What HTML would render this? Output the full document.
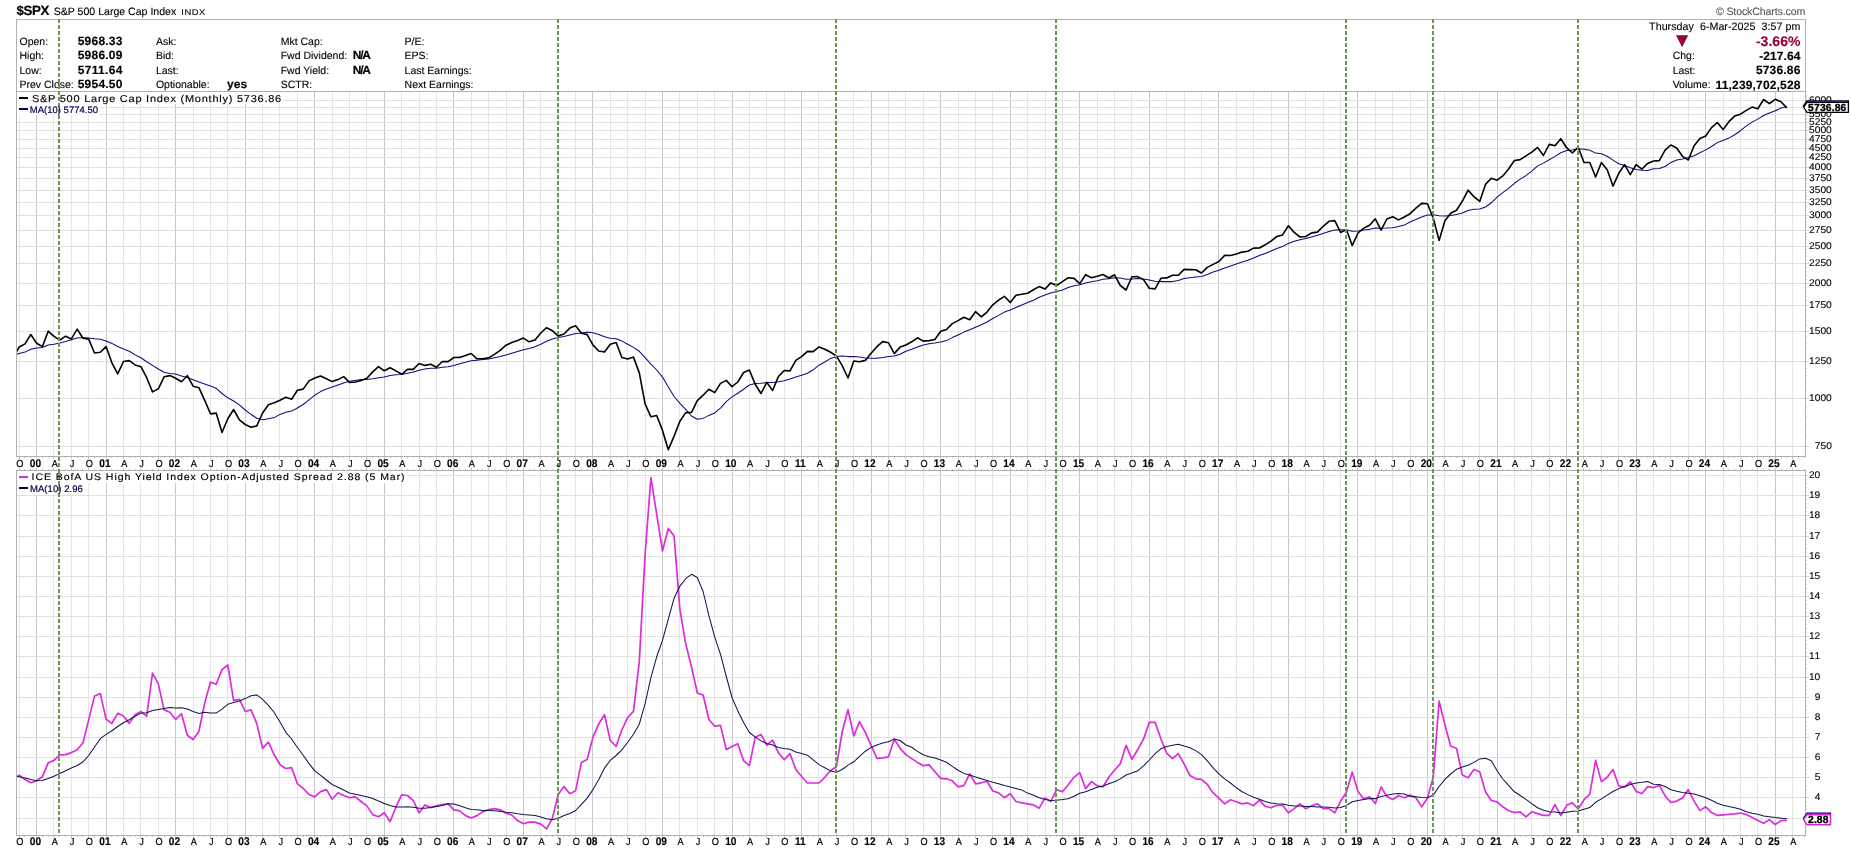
<!DOCTYPE html>
<html><head><meta charset="utf-8"><title>$SPX</title>
<style>html,body{margin:0;padding:0;background:#fff;overflow:hidden}body{width:1851px;height:851px;font-family:"Liberation Sans",sans-serif}svg{display:block;will-change:transform;text-rendering:geometricPrecision}text{white-space:pre}</style>
</head><body>
<svg width="1851" height="851" viewBox="0 0 1851 851" font-family="Liberation Sans, sans-serif">
<defs>
<clipPath id="c1"><rect x="17" y="92" width="1788" height="364"/></clipPath>
<clipPath id="c2"><rect x="17" y="471" width="1788" height="364"/></clipPath>
</defs>
<path d="M19.5 92V456M53.5 92V456M71.5 92V456M88.5 92V456M123.5 92V456M140.5 92V456M158.5 92V456M193.5 92V456M210.5 92V456M227.5 92V456M262.5 92V456M279.5 92V456M297.5 92V456M332.5 92V456M349.5 92V456M366.5 92V456M401.5 92V456M419.5 92V456M436.5 92V456M471.5 92V456M488.5 92V456M506.5 92V456M540.5 92V456M558.5 92V456M575.5 92V456M610.5 92V456M627.5 92V456M645.5 92V456M679.5 92V456M697.5 92V456M714.5 92V456M749.5 92V456M766.5 92V456M784.5 92V456M818.5 92V456M836.5 92V456M853.5 92V456M888.5 92V456M905.5 92V456M923.5 92V456M958.5 92V456M975.5 92V456M992.5 92V456M1027.5 92V456M1045.5 92V456M1062.5 92V456M1097.5 92V456M1114.5 92V456M1131.5 92V456M1166.5 92V456M1184.5 92V456M1201.5 92V456M1236.5 92V456M1253.5 92V456M1271.5 92V456M1305.5 92V456M1323.5 92V456M1340.5 92V456M1375.5 92V456M1392.5 92V456M1410.5 92V456M1444.5 92V456M1462.5 92V456M1479.5 92V456M1514.5 92V456M1531.5 92V456M1549.5 92V456M1583.5 92V456M1601.5 92V456M1618.5 92V456M1653.5 92V456M1670.5 92V456M1688.5 92V456M1723.5 92V456M1740.5 92V456M1757.5 92V456M1792.5 92V456" stroke="#e6e6e6" stroke-width="1" fill="none" shape-rendering="crispEdges"/>
<path d="M36.5 92V456M106.5 92V456M175.5 92V456M245.5 92V456M314.5 92V456M384.5 92V456M453.5 92V456M523.5 92V456M592.5 92V456M662.5 92V456M732.5 92V456M801.5 92V456M871.5 92V456M940.5 92V456M1010.5 92V456M1079.5 92V456M1149.5 92V456M1218.5 92V456M1288.5 92V456M1357.5 92V456M1427.5 92V456M1497.5 92V456M1566.5 92V456M1636.5 92V456M1705.5 92V456M1775.5 92V456" stroke="#c8c8c8" stroke-width="1" fill="none" shape-rendering="crispEdges"/>
<path d="M17 100.5H1805M17 107.5H1805M17 114.5H1805M17 122.5H1805M17 130.5H1805M17 139.5H1805M17 148.5H1805M17 157.5H1805M17 167.5H1805M17 178.5H1805M17 190.5H1805M17 202.5H1805M17 215.5H1805M17 230.5H1805M17 246.5H1805M17 263.5H1805M17 283.5H1805M17 305.5H1805M17 331.5H1805M17 361.5H1805M17 398.5H1805M17 446.5H1805" stroke="#e0e0e0" stroke-width="1" fill="none" shape-rendering="crispEdges"/>
<path d="M19.5 471V835M53.5 471V835M71.5 471V835M88.5 471V835M123.5 471V835M140.5 471V835M158.5 471V835M193.5 471V835M210.5 471V835M227.5 471V835M262.5 471V835M279.5 471V835M297.5 471V835M332.5 471V835M349.5 471V835M366.5 471V835M401.5 471V835M419.5 471V835M436.5 471V835M471.5 471V835M488.5 471V835M506.5 471V835M540.5 471V835M558.5 471V835M575.5 471V835M610.5 471V835M627.5 471V835M645.5 471V835M679.5 471V835M697.5 471V835M714.5 471V835M749.5 471V835M766.5 471V835M784.5 471V835M818.5 471V835M836.5 471V835M853.5 471V835M888.5 471V835M905.5 471V835M923.5 471V835M958.5 471V835M975.5 471V835M992.5 471V835M1027.5 471V835M1045.5 471V835M1062.5 471V835M1097.5 471V835M1114.5 471V835M1131.5 471V835M1166.5 471V835M1184.5 471V835M1201.5 471V835M1236.5 471V835M1253.5 471V835M1271.5 471V835M1305.5 471V835M1323.5 471V835M1340.5 471V835M1375.5 471V835M1392.5 471V835M1410.5 471V835M1444.5 471V835M1462.5 471V835M1479.5 471V835M1514.5 471V835M1531.5 471V835M1549.5 471V835M1583.5 471V835M1601.5 471V835M1618.5 471V835M1653.5 471V835M1670.5 471V835M1688.5 471V835M1723.5 471V835M1740.5 471V835M1757.5 471V835M1792.5 471V835" stroke="#e6e6e6" stroke-width="1" fill="none" shape-rendering="crispEdges"/>
<path d="M36.5 471V835M106.5 471V835M175.5 471V835M245.5 471V835M314.5 471V835M384.5 471V835M453.5 471V835M523.5 471V835M592.5 471V835M662.5 471V835M732.5 471V835M801.5 471V835M871.5 471V835M940.5 471V835M1010.5 471V835M1079.5 471V835M1149.5 471V835M1218.5 471V835M1288.5 471V835M1357.5 471V835M1427.5 471V835M1497.5 471V835M1566.5 471V835M1636.5 471V835M1705.5 471V835M1775.5 471V835" stroke="#c8c8c8" stroke-width="1" fill="none" shape-rendering="crispEdges"/>
<path d="M17 818.5H1805M17 797.5H1805M17 777.5H1805M17 757.5H1805M17 737.5H1805M17 717.5H1805M17 697.5H1805M17 677.5H1805M17 656.5H1805M17 636.5H1805M17 616.5H1805M17 596.5H1805M17 576.5H1805M17 556.5H1805M17 536.5H1805M17 515.5H1805M17 495.5H1805M17 475.5H1805" stroke="#e0e0e0" stroke-width="1" fill="none" shape-rendering="crispEdges"/>
<rect x="17" y="92" width="266" height="12" fill="#fff"/>
<rect x="17" y="104" width="83" height="11" fill="#fff"/>
<rect x="17" y="471" width="390" height="12" fill="#fff"/>
<rect x="17" y="483" width="68" height="12" fill="#fff"/>
<rect x="16.5" y="19.5" width="1789" height="72" fill="none" stroke="#b0b0b0" shape-rendering="crispEdges"/>
<rect x="16.5" y="91.5" width="1789" height="365" fill="none" stroke="#b0b0b0" shape-rendering="crispEdges"/>
<rect x="16.5" y="470.5" width="1789" height="365" fill="none" stroke="#b0b0b0" shape-rendering="crispEdges"/>
<path d="M19.5 457v2M19.5 468v2M19.5 836v2M24.5 457v1M24.5 469v1M24.5 836v1M30.5 457v1M30.5 469v1M30.5 836v1M36.5 457v2M36.5 468v2M36.5 836v2M42.5 457v1M42.5 469v1M42.5 836v1M48.5 457v1M48.5 469v1M48.5 836v1M53.5 457v2M53.5 468v2M53.5 836v2M59.5 457v1M59.5 469v1M59.5 836v1M65.5 457v1M65.5 469v1M65.5 836v1M71.5 457v2M71.5 468v2M71.5 836v2M77.5 457v1M77.5 469v1M77.5 836v1M82.5 457v1M82.5 469v1M82.5 836v1M88.5 457v2M88.5 468v2M88.5 836v2M94.5 457v1M94.5 469v1M94.5 836v1M100.5 457v1M100.5 469v1M100.5 836v1M106.5 457v2M106.5 468v2M106.5 836v2M111.5 457v1M111.5 469v1M111.5 836v1M117.5 457v1M117.5 469v1M117.5 836v1M123.5 457v2M123.5 468v2M123.5 836v2M129.5 457v1M129.5 469v1M129.5 836v1M135.5 457v1M135.5 469v1M135.5 836v1M140.5 457v2M140.5 468v2M140.5 836v2M146.5 457v1M146.5 469v1M146.5 836v1M152.5 457v1M152.5 469v1M152.5 836v1M158.5 457v2M158.5 468v2M158.5 836v2M164.5 457v1M164.5 469v1M164.5 836v1M169.5 457v1M169.5 469v1M169.5 836v1M175.5 457v2M175.5 468v2M175.5 836v2M181.5 457v1M181.5 469v1M181.5 836v1M187.5 457v1M187.5 469v1M187.5 836v1M193.5 457v2M193.5 468v2M193.5 836v2M198.5 457v1M198.5 469v1M198.5 836v1M204.5 457v1M204.5 469v1M204.5 836v1M210.5 457v2M210.5 468v2M210.5 836v2M216.5 457v1M216.5 469v1M216.5 836v1M222.5 457v1M222.5 469v1M222.5 836v1M227.5 457v2M227.5 468v2M227.5 836v2M233.5 457v1M233.5 469v1M233.5 836v1M239.5 457v1M239.5 469v1M239.5 836v1M245.5 457v2M245.5 468v2M245.5 836v2M251.5 457v1M251.5 469v1M251.5 836v1M256.5 457v1M256.5 469v1M256.5 836v1M262.5 457v2M262.5 468v2M262.5 836v2M268.5 457v1M268.5 469v1M268.5 836v1M274.5 457v1M274.5 469v1M274.5 836v1M279.5 457v2M279.5 468v2M279.5 836v2M285.5 457v1M285.5 469v1M285.5 836v1M291.5 457v1M291.5 469v1M291.5 836v1M297.5 457v2M297.5 468v2M297.5 836v2M303.5 457v1M303.5 469v1M303.5 836v1M308.5 457v1M308.5 469v1M308.5 836v1M314.5 457v2M314.5 468v2M314.5 836v2M320.5 457v1M320.5 469v1M320.5 836v1M326.5 457v1M326.5 469v1M326.5 836v1M332.5 457v2M332.5 468v2M332.5 836v2M337.5 457v1M337.5 469v1M337.5 836v1M343.5 457v1M343.5 469v1M343.5 836v1M349.5 457v2M349.5 468v2M349.5 836v2M355.5 457v1M355.5 469v1M355.5 836v1M361.5 457v1M361.5 469v1M361.5 836v1M366.5 457v2M366.5 468v2M366.5 836v2M372.5 457v1M372.5 469v1M372.5 836v1M378.5 457v1M378.5 469v1M378.5 836v1M384.5 457v2M384.5 468v2M384.5 836v2M390.5 457v1M390.5 469v1M390.5 836v1M395.5 457v1M395.5 469v1M395.5 836v1M401.5 457v2M401.5 468v2M401.5 836v2M407.5 457v1M407.5 469v1M407.5 836v1M413.5 457v1M413.5 469v1M413.5 836v1M419.5 457v2M419.5 468v2M419.5 836v2M424.5 457v1M424.5 469v1M424.5 836v1M430.5 457v1M430.5 469v1M430.5 836v1M436.5 457v2M436.5 468v2M436.5 836v2M442.5 457v1M442.5 469v1M442.5 836v1M448.5 457v1M448.5 469v1M448.5 836v1M453.5 457v2M453.5 468v2M453.5 836v2M459.5 457v1M459.5 469v1M459.5 836v1M465.5 457v1M465.5 469v1M465.5 836v1M471.5 457v2M471.5 468v2M471.5 836v2M477.5 457v1M477.5 469v1M477.5 836v1M482.5 457v1M482.5 469v1M482.5 836v1M488.5 457v2M488.5 468v2M488.5 836v2M494.5 457v1M494.5 469v1M494.5 836v1M500.5 457v1M500.5 469v1M500.5 836v1M506.5 457v2M506.5 468v2M506.5 836v2M511.5 457v1M511.5 469v1M511.5 836v1M517.5 457v1M517.5 469v1M517.5 836v1M523.5 457v2M523.5 468v2M523.5 836v2M529.5 457v1M529.5 469v1M529.5 836v1M534.5 457v1M534.5 469v1M534.5 836v1M540.5 457v2M540.5 468v2M540.5 836v2M546.5 457v1M546.5 469v1M546.5 836v1M552.5 457v1M552.5 469v1M552.5 836v1M558.5 457v2M558.5 468v2M558.5 836v2M563.5 457v1M563.5 469v1M563.5 836v1M569.5 457v1M569.5 469v1M569.5 836v1M575.5 457v2M575.5 468v2M575.5 836v2M581.5 457v1M581.5 469v1M581.5 836v1M587.5 457v1M587.5 469v1M587.5 836v1M592.5 457v2M592.5 468v2M592.5 836v2M598.5 457v1M598.5 469v1M598.5 836v1M604.5 457v1M604.5 469v1M604.5 836v1M610.5 457v2M610.5 468v2M610.5 836v2M616.5 457v1M616.5 469v1M616.5 836v1M621.5 457v1M621.5 469v1M621.5 836v1M627.5 457v2M627.5 468v2M627.5 836v2M633.5 457v1M633.5 469v1M633.5 836v1M639.5 457v1M639.5 469v1M639.5 836v1M645.5 457v2M645.5 468v2M645.5 836v2M650.5 457v1M650.5 469v1M650.5 836v1M656.5 457v1M656.5 469v1M656.5 836v1M662.5 457v2M662.5 468v2M662.5 836v2M668.5 457v1M668.5 469v1M668.5 836v1M674.5 457v1M674.5 469v1M674.5 836v1M679.5 457v2M679.5 468v2M679.5 836v2M685.5 457v1M685.5 469v1M685.5 836v1M691.5 457v1M691.5 469v1M691.5 836v1M697.5 457v2M697.5 468v2M697.5 836v2M703.5 457v1M703.5 469v1M703.5 836v1M708.5 457v1M708.5 469v1M708.5 836v1M714.5 457v2M714.5 468v2M714.5 836v2M720.5 457v1M720.5 469v1M720.5 836v1M726.5 457v1M726.5 469v1M726.5 836v1M732.5 457v2M732.5 468v2M732.5 836v2M737.5 457v1M737.5 469v1M737.5 836v1M743.5 457v1M743.5 469v1M743.5 836v1M749.5 457v2M749.5 468v2M749.5 836v2M755.5 457v1M755.5 469v1M755.5 836v1M761.5 457v1M761.5 469v1M761.5 836v1M766.5 457v2M766.5 468v2M766.5 836v2M772.5 457v1M772.5 469v1M772.5 836v1M778.5 457v1M778.5 469v1M778.5 836v1M784.5 457v2M784.5 468v2M784.5 836v2M790.5 457v1M790.5 469v1M790.5 836v1M795.5 457v1M795.5 469v1M795.5 836v1M801.5 457v2M801.5 468v2M801.5 836v2M807.5 457v1M807.5 469v1M807.5 836v1M813.5 457v1M813.5 469v1M813.5 836v1M818.5 457v2M818.5 468v2M818.5 836v2M824.5 457v1M824.5 469v1M824.5 836v1M830.5 457v1M830.5 469v1M830.5 836v1M836.5 457v2M836.5 468v2M836.5 836v2M842.5 457v1M842.5 469v1M842.5 836v1M847.5 457v1M847.5 469v1M847.5 836v1M853.5 457v2M853.5 468v2M853.5 836v2M859.5 457v1M859.5 469v1M859.5 836v1M865.5 457v1M865.5 469v1M865.5 836v1M871.5 457v2M871.5 468v2M871.5 836v2M876.5 457v1M876.5 469v1M876.5 836v1M882.5 457v1M882.5 469v1M882.5 836v1M888.5 457v2M888.5 468v2M888.5 836v2M894.5 457v1M894.5 469v1M894.5 836v1M900.5 457v1M900.5 469v1M900.5 836v1M905.5 457v2M905.5 468v2M905.5 836v2M911.5 457v1M911.5 469v1M911.5 836v1M917.5 457v1M917.5 469v1M917.5 836v1M923.5 457v2M923.5 468v2M923.5 836v2M929.5 457v1M929.5 469v1M929.5 836v1M934.5 457v1M934.5 469v1M934.5 836v1M940.5 457v2M940.5 468v2M940.5 836v2M946.5 457v1M946.5 469v1M946.5 836v1M952.5 457v1M952.5 469v1M952.5 836v1M958.5 457v2M958.5 468v2M958.5 836v2M963.5 457v1M963.5 469v1M963.5 836v1M969.5 457v1M969.5 469v1M969.5 836v1M975.5 457v2M975.5 468v2M975.5 836v2M981.5 457v1M981.5 469v1M981.5 836v1M987.5 457v1M987.5 469v1M987.5 836v1M992.5 457v2M992.5 468v2M992.5 836v2M998.5 457v1M998.5 469v1M998.5 836v1M1004.5 457v1M1004.5 469v1M1004.5 836v1M1010.5 457v2M1010.5 468v2M1010.5 836v2M1016.5 457v1M1016.5 469v1M1016.5 836v1M1021.5 457v1M1021.5 469v1M1021.5 836v1M1027.5 457v2M1027.5 468v2M1027.5 836v2M1033.5 457v1M1033.5 469v1M1033.5 836v1M1039.5 457v1M1039.5 469v1M1039.5 836v1M1045.5 457v2M1045.5 468v2M1045.5 836v2M1050.5 457v1M1050.5 469v1M1050.5 836v1M1056.5 457v1M1056.5 469v1M1056.5 836v1M1062.5 457v2M1062.5 468v2M1062.5 836v2M1068.5 457v1M1068.5 469v1M1068.5 836v1M1073.5 457v1M1073.5 469v1M1073.5 836v1M1079.5 457v2M1079.5 468v2M1079.5 836v2M1085.5 457v1M1085.5 469v1M1085.5 836v1M1091.5 457v1M1091.5 469v1M1091.5 836v1M1097.5 457v2M1097.5 468v2M1097.5 836v2M1102.5 457v1M1102.5 469v1M1102.5 836v1M1108.5 457v1M1108.5 469v1M1108.5 836v1M1114.5 457v2M1114.5 468v2M1114.5 836v2M1120.5 457v1M1120.5 469v1M1120.5 836v1M1126.5 457v1M1126.5 469v1M1126.5 836v1M1131.5 457v2M1131.5 468v2M1131.5 836v2M1137.5 457v1M1137.5 469v1M1137.5 836v1M1143.5 457v1M1143.5 469v1M1143.5 836v1M1149.5 457v2M1149.5 468v2M1149.5 836v2M1155.5 457v1M1155.5 469v1M1155.5 836v1M1160.5 457v1M1160.5 469v1M1160.5 836v1M1166.5 457v2M1166.5 468v2M1166.5 836v2M1172.5 457v1M1172.5 469v1M1172.5 836v1M1178.5 457v1M1178.5 469v1M1178.5 836v1M1184.5 457v2M1184.5 468v2M1184.5 836v2M1189.5 457v1M1189.5 469v1M1189.5 836v1M1195.5 457v1M1195.5 469v1M1195.5 836v1M1201.5 457v2M1201.5 468v2M1201.5 836v2M1207.5 457v1M1207.5 469v1M1207.5 836v1M1213.5 457v1M1213.5 469v1M1213.5 836v1M1218.5 457v2M1218.5 468v2M1218.5 836v2M1224.5 457v1M1224.5 469v1M1224.5 836v1M1230.5 457v1M1230.5 469v1M1230.5 836v1M1236.5 457v2M1236.5 468v2M1236.5 836v2M1242.5 457v1M1242.5 469v1M1242.5 836v1M1247.5 457v1M1247.5 469v1M1247.5 836v1M1253.5 457v2M1253.5 468v2M1253.5 836v2M1259.5 457v1M1259.5 469v1M1259.5 836v1M1265.5 457v1M1265.5 469v1M1265.5 836v1M1271.5 457v2M1271.5 468v2M1271.5 836v2M1276.5 457v1M1276.5 469v1M1276.5 836v1M1282.5 457v1M1282.5 469v1M1282.5 836v1M1288.5 457v2M1288.5 468v2M1288.5 836v2M1294.5 457v1M1294.5 469v1M1294.5 836v1M1300.5 457v1M1300.5 469v1M1300.5 836v1M1305.5 457v2M1305.5 468v2M1305.5 836v2M1311.5 457v1M1311.5 469v1M1311.5 836v1M1317.5 457v1M1317.5 469v1M1317.5 836v1M1323.5 457v2M1323.5 468v2M1323.5 836v2M1328.5 457v1M1328.5 469v1M1328.5 836v1M1334.5 457v1M1334.5 469v1M1334.5 836v1M1340.5 457v2M1340.5 468v2M1340.5 836v2M1346.5 457v1M1346.5 469v1M1346.5 836v1M1352.5 457v1M1352.5 469v1M1352.5 836v1M1357.5 457v2M1357.5 468v2M1357.5 836v2M1363.5 457v1M1363.5 469v1M1363.5 836v1M1369.5 457v1M1369.5 469v1M1369.5 836v1M1375.5 457v2M1375.5 468v2M1375.5 836v2M1381.5 457v1M1381.5 469v1M1381.5 836v1M1386.5 457v1M1386.5 469v1M1386.5 836v1M1392.5 457v2M1392.5 468v2M1392.5 836v2M1398.5 457v1M1398.5 469v1M1398.5 836v1M1404.5 457v1M1404.5 469v1M1404.5 836v1M1410.5 457v2M1410.5 468v2M1410.5 836v2M1415.5 457v1M1415.5 469v1M1415.5 836v1M1421.5 457v1M1421.5 469v1M1421.5 836v1M1427.5 457v2M1427.5 468v2M1427.5 836v2M1433.5 457v1M1433.5 469v1M1433.5 836v1M1439.5 457v1M1439.5 469v1M1439.5 836v1M1444.5 457v2M1444.5 468v2M1444.5 836v2M1450.5 457v1M1450.5 469v1M1450.5 836v1M1456.5 457v1M1456.5 469v1M1456.5 836v1M1462.5 457v2M1462.5 468v2M1462.5 836v2M1468.5 457v1M1468.5 469v1M1468.5 836v1M1473.5 457v1M1473.5 469v1M1473.5 836v1M1479.5 457v2M1479.5 468v2M1479.5 836v2M1485.5 457v1M1485.5 469v1M1485.5 836v1M1491.5 457v1M1491.5 469v1M1491.5 836v1M1497.5 457v2M1497.5 468v2M1497.5 836v2M1502.5 457v1M1502.5 469v1M1502.5 836v1M1508.5 457v1M1508.5 469v1M1508.5 836v1M1514.5 457v2M1514.5 468v2M1514.5 836v2M1520.5 457v1M1520.5 469v1M1520.5 836v1M1526.5 457v1M1526.5 469v1M1526.5 836v1M1531.5 457v2M1531.5 468v2M1531.5 836v2M1537.5 457v1M1537.5 469v1M1537.5 836v1M1543.5 457v1M1543.5 469v1M1543.5 836v1M1549.5 457v2M1549.5 468v2M1549.5 836v2M1555.5 457v1M1555.5 469v1M1555.5 836v1M1560.5 457v1M1560.5 469v1M1560.5 836v1M1566.5 457v2M1566.5 468v2M1566.5 836v2M1572.5 457v1M1572.5 469v1M1572.5 836v1M1578.5 457v1M1578.5 469v1M1578.5 836v1M1583.5 457v2M1583.5 468v2M1583.5 836v2M1589.5 457v1M1589.5 469v1M1589.5 836v1M1595.5 457v1M1595.5 469v1M1595.5 836v1M1601.5 457v2M1601.5 468v2M1601.5 836v2M1607.5 457v1M1607.5 469v1M1607.5 836v1M1612.5 457v1M1612.5 469v1M1612.5 836v1M1618.5 457v2M1618.5 468v2M1618.5 836v2M1624.5 457v1M1624.5 469v1M1624.5 836v1M1630.5 457v1M1630.5 469v1M1630.5 836v1M1636.5 457v2M1636.5 468v2M1636.5 836v2M1641.5 457v1M1641.5 469v1M1641.5 836v1M1647.5 457v1M1647.5 469v1M1647.5 836v1M1653.5 457v2M1653.5 468v2M1653.5 836v2M1659.5 457v1M1659.5 469v1M1659.5 836v1M1665.5 457v1M1665.5 469v1M1665.5 836v1M1670.5 457v2M1670.5 468v2M1670.5 836v2M1676.5 457v1M1676.5 469v1M1676.5 836v1M1682.5 457v1M1682.5 469v1M1682.5 836v1M1688.5 457v2M1688.5 468v2M1688.5 836v2M1694.5 457v1M1694.5 469v1M1694.5 836v1M1699.5 457v1M1699.5 469v1M1699.5 836v1M1705.5 457v2M1705.5 468v2M1705.5 836v2M1711.5 457v1M1711.5 469v1M1711.5 836v1M1717.5 457v1M1717.5 469v1M1717.5 836v1M1723.5 457v2M1723.5 468v2M1723.5 836v2M1728.5 457v1M1728.5 469v1M1728.5 836v1M1734.5 457v1M1734.5 469v1M1734.5 836v1M1740.5 457v2M1740.5 468v2M1740.5 836v2M1746.5 457v1M1746.5 469v1M1746.5 836v1M1752.5 457v1M1752.5 469v1M1752.5 836v1M1757.5 457v2M1757.5 468v2M1757.5 836v2M1763.5 457v1M1763.5 469v1M1763.5 836v1M1769.5 457v1M1769.5 469v1M1769.5 836v1M1775.5 457v2M1775.5 468v2M1775.5 836v2M1781.5 457v1M1781.5 469v1M1781.5 836v1M1786.5 457v1M1786.5 469v1M1786.5 836v1M1792.5 457v2M1792.5 468v2M1792.5 836v2M1798.5 457v1M1798.5 469v1M1798.5 836v1M1804.5 457v1M1804.5 469v1M1804.5 836v1" stroke="#c4c4c4" fill="none" shape-rendering="crispEdges"/>
<path d="M19.5 848v1M36.5 848v1M53.5 848v1M71.5 848v1M88.5 848v1M106.5 848v1M123.5 848v1M140.5 848v1M158.5 848v1M175.5 848v1M193.5 848v1M210.5 848v1M227.5 848v1M245.5 848v1M262.5 848v1M279.5 848v1M297.5 848v1M314.5 848v1M332.5 848v1M349.5 848v1M366.5 848v1M384.5 848v1M401.5 848v1M419.5 848v1M436.5 848v1M453.5 848v1M471.5 848v1M488.5 848v1M506.5 848v1M523.5 848v1M540.5 848v1M558.5 848v1M575.5 848v1M592.5 848v1M610.5 848v1M627.5 848v1M645.5 848v1M662.5 848v1M679.5 848v1M697.5 848v1M714.5 848v1M732.5 848v1M749.5 848v1M766.5 848v1M784.5 848v1M801.5 848v1M818.5 848v1M836.5 848v1M853.5 848v1M871.5 848v1M888.5 848v1M905.5 848v1M923.5 848v1M940.5 848v1M958.5 848v1M975.5 848v1M992.5 848v1M1010.5 848v1M1027.5 848v1M1045.5 848v1M1062.5 848v1M1079.5 848v1M1097.5 848v1M1114.5 848v1M1131.5 848v1M1149.5 848v1M1166.5 848v1M1184.5 848v1M1201.5 848v1M1218.5 848v1M1236.5 848v1M1253.5 848v1M1271.5 848v1M1288.5 848v1M1305.5 848v1M1323.5 848v1M1340.5 848v1M1357.5 848v1M1375.5 848v1M1392.5 848v1M1410.5 848v1M1427.5 848v1M1444.5 848v1M1462.5 848v1M1479.5 848v1M1497.5 848v1M1514.5 848v1M1531.5 848v1M1549.5 848v1M1566.5 848v1M1583.5 848v1M1601.5 848v1M1618.5 848v1M1636.5 848v1M1653.5 848v1M1670.5 848v1M1688.5 848v1M1705.5 848v1M1723.5 848v1M1740.5 848v1M1757.5 848v1M1775.5 848v1M1792.5 848v1" stroke="#e6e6e6" fill="none" shape-rendering="crispEdges"/>
<path d="M1806 100.5h3M1806 107.5h3M1806 114.5h3M1806 122.5h3M1806 130.5h3M1806 139.5h3M1806 148.5h3M1806 157.5h3M1806 167.5h3M1806 178.5h3M1806 190.5h3M1806 202.5h3M1806 215.5h3M1806 230.5h3M1806 246.5h3M1806 263.5h3M1806 283.5h3M1806 305.5h3M1806 331.5h3M1806 361.5h3M1806 398.5h3M1806 446.5h3M1806 818.5h3M1806 797.5h3M1806 777.5h3M1806 757.5h3M1806 737.5h3M1806 717.5h3M1806 697.5h3M1806 677.5h3M1806 656.5h3M1806 636.5h3M1806 616.5h3M1806 596.5h3M1806 576.5h3M1806 556.5h3M1806 536.5h3M1806 515.5h3M1806 495.5h3M1806 475.5h3" stroke="#cfcfcf" fill="none" shape-rendering="crispEdges"/>
<path d="M1806 446.5h1M1806 435.5h1M1806 425.5h1M1806 416.5h1M1806 407.5h1M1806 398.5h1M1806 390.5h1M1806 382.5h1M1806 375.5h1M1806 368.5h1M1806 361.5h1M1806 354.5h1M1806 348.5h1M1806 342.5h1M1806 336.5h1M1806 331.5h1M1806 325.5h1M1806 320.5h1M1806 315.5h1M1806 310.5h1M1806 305.5h1M1806 300.5h1M1806 296.5h1M1806 291.5h1M1806 287.5h1M1806 283.5h1M1806 279.5h1M1806 275.5h1M1806 271.5h1M1806 267.5h1M1806 263.5h1M1806 260.5h1M1806 256.5h1M1806 252.5h1M1806 249.5h1M1806 246.5h1M1806 242.5h1M1806 239.5h1M1806 236.5h1M1806 233.5h1M1806 230.5h1M1806 227.5h1M1806 224.5h1M1806 221.5h1M1806 218.5h1M1806 215.5h1M1806 213.5h1M1806 210.5h1M1806 207.5h1M1806 205.5h1M1806 202.5h1M1806 199.5h1M1806 197.5h1M1806 195.5h1M1806 192.5h1M1806 190.5h1M1806 187.5h1M1806 185.5h1M1806 183.5h1M1806 180.5h1M1806 178.5h1M1806 176.5h1M1806 174.5h1M1806 172.5h1M1806 170.5h1M1806 167.5h1M1806 165.5h1M1806 163.5h1M1806 161.5h1M1806 159.5h1M1806 157.5h1M1806 155.5h1M1806 154.5h1M1806 152.5h1M1806 150.5h1M1806 148.5h1M1806 146.5h1M1806 144.5h1M1806 142.5h1M1806 141.5h1M1806 139.5h1M1806 137.5h1M1806 135.5h1M1806 134.5h1M1806 132.5h1M1806 130.5h1M1806 129.5h1M1806 127.5h1M1806 125.5h1M1806 124.5h1M1806 122.5h1M1806 121.5h1M1806 119.5h1M1806 118.5h1M1806 116.5h1M1806 114.5h1M1806 113.5h1M1806 111.5h1M1806 110.5h1M1806 109.5h1M1806 107.5h1M1806 106.5h1M1806 104.5h1M1806 103.5h1M1806 101.5h1M1806 100.5h1M1806 99.5h1M1806 97.5h1M1806 96.5h1M1806 95.5h1M1806 93.5h1M1806 830.5h1M1806 826.5h1M1806 822.5h1M1806 818.5h1M1806 814.5h1M1806 809.5h1M1806 805.5h1M1806 801.5h1M1806 797.5h1M1806 793.5h1M1806 789.5h1M1806 785.5h1M1806 781.5h1M1806 777.5h1M1806 773.5h1M1806 769.5h1M1806 765.5h1M1806 761.5h1M1806 757.5h1M1806 753.5h1M1806 749.5h1M1806 745.5h1M1806 741.5h1M1806 737.5h1M1806 733.5h1M1806 729.5h1M1806 725.5h1M1806 721.5h1M1806 717.5h1M1806 713.5h1M1806 709.5h1M1806 705.5h1M1806 701.5h1M1806 697.5h1M1806 693.5h1M1806 689.5h1M1806 685.5h1M1806 681.5h1M1806 677.5h1M1806 673.5h1M1806 668.5h1M1806 664.5h1M1806 660.5h1M1806 656.5h1M1806 652.5h1M1806 648.5h1M1806 644.5h1M1806 640.5h1M1806 636.5h1M1806 632.5h1M1806 628.5h1M1806 624.5h1M1806 620.5h1M1806 616.5h1M1806 612.5h1M1806 608.5h1M1806 604.5h1M1806 600.5h1M1806 596.5h1M1806 592.5h1M1806 588.5h1M1806 584.5h1M1806 580.5h1M1806 576.5h1M1806 572.5h1M1806 568.5h1M1806 564.5h1M1806 560.5h1M1806 556.5h1M1806 552.5h1M1806 548.5h1M1806 544.5h1M1806 540.5h1M1806 536.5h1M1806 532.5h1M1806 528.5h1M1806 523.5h1M1806 519.5h1M1806 515.5h1M1806 511.5h1M1806 507.5h1M1806 503.5h1M1806 499.5h1M1806 495.5h1M1806 491.5h1M1806 487.5h1M1806 483.5h1M1806 479.5h1M1806 475.5h1" stroke="#d8d8d8" fill="none" shape-rendering="crispEdges"/>
<g clip-path="url(#c1)" fill="none" stroke-linejoin="round">
<polyline points="13.4,355.2 19.2,353.5 25.0,352.1 30.8,349.2 36.6,347.9 42.4,347.5 48.2,345.1 54.0,344.2 59.8,343.1 65.6,341.5 71.4,339.7 77.2,337.9 83.0,337.4 88.7,337.9 94.5,338.8 100.3,339.3 106.1,340.9 111.9,343.4 117.7,346.5 123.5,349.0 129.3,351.2 135.1,354.9 140.9,357.8 146.7,361.7 152.5,365.4 158.3,369.0 164.1,372.2 169.9,373.5 175.7,374.0 181.5,376.0 187.3,377.6 193.1,379.8 198.9,381.9 204.7,384.1 210.5,386.1 216.2,388.3 222.0,393.5 227.8,397.8 233.6,401.0 239.4,404.9 245.2,410.0 251.0,414.3 256.8,418.3 262.6,419.7 268.4,418.7 274.2,417.6 280.0,414.4 285.8,412.2 291.6,411.1 297.4,408.0 303.2,404.5 309.0,399.9 314.8,395.2 320.6,391.6 326.4,389.0 332.2,386.9 338.0,384.9 343.7,382.9 349.5,381.3 355.3,380.5 361.1,379.6 366.9,379.4 372.7,378.7 378.5,377.7 384.3,376.9 390.1,375.5 395.9,374.7 401.7,374.4 407.5,373.2 413.3,371.9 419.1,370.2 424.9,369.0 430.7,368.2 436.5,368.3 442.3,367.3 448.1,366.7 453.9,365.4 459.7,363.7 465.5,362.3 471.2,360.7 477.0,360.2 482.8,359.6 488.6,358.9 494.4,357.7 500.2,356.5 506.0,354.9 511.8,353.3 517.6,351.6 523.4,349.8 529.2,348.6 535.0,346.8 540.8,344.2 546.6,341.2 552.4,338.9 558.2,337.5 564.0,336.4 569.8,334.9 575.6,333.5 581.4,333.0 587.2,332.3 593.0,332.8 598.8,334.5 604.5,336.8 610.3,338.2 616.1,338.8 621.9,341.1 627.7,344.2 633.5,347.4 639.3,351.3 645.1,357.7 650.9,364.1 656.7,370.0 662.5,377.1 668.3,386.9 674.1,396.5 679.9,403.3 685.7,409.4 691.5,416.0 697.3,419.3 703.1,418.4 708.9,415.4 714.7,412.9 720.5,408.1 726.3,401.6 732.0,396.9 737.8,393.2 743.6,389.2 749.4,385.0 755.2,383.5 761.0,383.3 766.8,382.6 772.6,382.4 778.4,381.8 784.2,380.7 790.0,379.1 795.8,376.9 801.6,375.2 807.4,373.2 813.2,369.8 819.0,365.2 824.8,362.0 830.6,358.4 836.4,356.4 842.2,355.9 848.0,356.6 853.8,356.6 859.5,357.1 865.3,358.0 871.1,358.2 876.9,358.2 882.7,357.4 888.5,356.4 894.3,356.1 900.1,354.3 905.9,351.2 911.7,349.3 917.5,346.9 923.3,345.0 929.1,343.8 934.9,343.0 940.7,342.0 946.5,340.6 952.3,337.6 958.1,334.9 963.9,332.1 969.7,329.8 975.5,327.2 981.3,324.8 987.0,322.0 992.8,318.5 998.6,315.4 1004.4,312.1 1010.2,310.0 1016.0,307.4 1021.8,305.1 1027.6,302.5 1033.4,300.3 1039.2,297.3 1045.0,295.1 1050.8,292.9 1056.6,291.4 1062.4,289.9 1068.2,287.5 1074.0,285.8 1079.8,284.8 1085.6,282.9 1091.4,281.7 1097.2,280.7 1103.0,279.3 1108.8,278.8 1114.5,277.7 1120.3,278.1 1126.1,279.3 1131.9,279.1 1137.7,278.4 1143.5,278.9 1149.3,279.9 1155.1,281.2 1160.9,281.6 1166.7,281.6 1172.5,281.6 1178.3,280.6 1184.1,278.5 1189.9,277.8 1195.7,277.1 1201.5,276.4 1207.3,274.4 1213.1,272.0 1218.9,270.3 1224.7,268.0 1230.5,266.0 1236.3,263.9 1242.1,262.1 1247.8,260.3 1253.6,258.1 1259.4,255.6 1265.2,253.4 1271.0,251.1 1276.8,248.6 1282.6,246.5 1288.4,243.4 1294.2,241.3 1300.0,239.8 1305.8,238.4 1311.6,236.9 1317.4,235.3 1323.2,233.5 1329.0,231.5 1334.8,229.9 1340.6,229.7 1346.4,230.0 1352.2,231.3 1358.0,230.9 1363.8,230.1 1369.6,229.3 1375.3,227.9 1381.1,228.3 1386.9,228.1 1392.7,227.7 1398.5,226.4 1404.3,225.1 1410.1,222.0 1415.9,219.6 1421.7,217.0 1427.5,214.9 1433.3,214.8 1439.1,215.7 1444.9,215.9 1450.7,215.6 1456.5,214.6 1462.3,213.0 1468.1,210.5 1473.9,209.3 1479.7,209.1 1485.5,207.0 1491.3,202.8 1497.1,197.1 1502.8,192.7 1508.6,188.3 1514.4,183.3 1520.2,179.1 1526.0,175.6 1531.8,171.1 1537.6,165.9 1543.4,163.1 1549.2,159.7 1555.0,156.4 1560.8,152.7 1566.6,150.6 1572.4,149.9 1578.2,148.7 1584.0,149.3 1589.8,150.3 1595.6,153.1 1601.4,153.8 1607.2,156.3 1613.0,160.1 1618.8,163.7 1624.6,165.5 1630.3,167.7 1636.1,169.6 1641.9,170.3 1647.7,170.4 1653.5,168.8 1659.3,168.5 1665.1,166.5 1670.9,162.4 1676.7,159.9 1682.5,159.0 1688.3,157.6 1694.1,155.7 1699.9,152.7 1705.7,149.9 1711.5,146.5 1717.3,142.6 1723.1,140.5 1728.9,138.1 1734.7,134.8 1740.5,130.7 1746.3,125.9 1752.1,122.1 1757.8,119.1 1763.6,115.5 1769.4,113.1 1775.2,110.8 1781.0,108.1 1786.8,106.8" stroke="#0c0c7c" stroke-width="1.05"/>
<polyline points="13.4,357.1 19.2,347.0 25.0,343.9 30.8,334.5 36.6,343.2 42.4,346.6 48.2,331.2 54.0,336.4 59.8,340.1 65.6,336.2 71.4,338.9 77.2,329.1 83.0,338.3 88.7,339.1 94.5,353.0 100.3,352.3 106.1,346.6 111.9,362.8 117.7,373.8 123.5,361.5 129.3,360.6 135.1,364.9 140.9,366.7 146.7,377.7 152.5,391.9 158.3,388.9 164.1,376.8 169.9,375.6 175.7,378.2 181.5,381.7 187.3,375.7 193.1,386.2 198.9,387.7 204.7,400.3 210.5,413.9 216.2,413.1 222.0,432.5 227.8,418.7 233.6,409.5 239.4,419.9 245.2,424.5 251.0,427.3 256.8,425.9 262.6,413.0 268.4,404.7 274.2,402.8 280.0,400.2 285.8,397.2 291.6,399.2 297.4,390.3 303.2,389.1 309.0,380.9 314.8,378.0 320.6,376.0 326.4,378.8 332.2,381.6 338.0,379.6 343.7,376.6 349.5,382.4 355.3,382.0 361.1,380.5 366.9,378.2 372.7,371.9 378.5,366.6 384.3,370.8 390.1,367.7 395.9,370.9 401.7,374.3 407.5,369.4 413.3,369.4 419.1,363.5 424.9,365.4 430.7,364.3 436.5,367.2 442.3,361.5 448.1,361.6 453.9,357.5 459.7,357.4 465.5,355.5 471.2,353.5 477.0,358.8 482.8,358.8 488.6,357.9 494.4,354.4 500.2,350.4 506.0,345.2 511.8,342.5 517.6,340.4 523.4,338.1 529.2,341.8 535.0,340.1 540.8,333.0 546.6,327.7 552.4,330.7 558.2,336.1 564.0,334.0 569.8,328.1 575.6,325.7 581.4,333.2 587.2,334.6 593.0,345.1 598.8,351.0 604.5,352.0 610.3,344.3 616.1,342.5 621.9,357.5 627.7,359.1 633.5,357.1 639.3,372.9 645.1,403.8 650.9,416.8 656.7,415.5 662.5,430.4 668.3,449.8 674.1,436.1 679.9,421.2 685.7,412.6 691.5,412.5 697.3,400.6 703.1,395.2 708.9,389.3 714.7,392.6 720.5,383.4 726.3,380.4 732.0,386.7 737.8,382.0 743.6,372.5 749.4,370.1 755.2,384.3 761.0,393.5 766.8,382.4 772.6,390.5 778.4,376.6 784.2,370.5 790.0,370.9 795.8,360.4 801.6,356.7 807.4,351.4 813.2,351.6 819.0,346.9 824.8,349.2 830.6,352.3 836.4,355.9 842.2,365.6 848.0,378.0 853.8,361.0 859.5,361.8 865.3,360.4 871.1,353.3 876.9,346.7 882.7,341.6 888.5,342.8 894.3,353.6 900.1,347.1 905.9,345.0 911.7,341.8 917.5,337.8 923.3,341.1 929.1,340.6 934.9,339.5 940.7,331.3 946.5,329.5 952.3,323.6 958.1,320.6 963.9,317.2 969.7,319.7 975.5,311.7 981.3,316.9 987.0,312.1 992.8,304.8 998.6,300.2 1004.4,296.3 1010.2,302.4 1016.0,295.3 1021.8,294.2 1027.6,293.2 1033.4,289.7 1039.2,286.6 1045.0,289.1 1050.8,282.9 1056.6,285.5 1062.4,281.7 1068.2,277.7 1074.0,278.4 1079.8,283.6 1085.6,274.7 1091.4,277.7 1097.2,276.2 1103.0,274.5 1108.8,278.0 1114.5,274.8 1120.3,285.5 1126.1,290.0 1131.9,276.7 1137.7,276.6 1143.5,279.6 1149.3,288.3 1155.1,288.9 1160.9,278.3 1166.7,277.9 1172.5,275.3 1178.3,275.2 1184.1,269.4 1189.9,269.6 1195.7,269.8 1201.5,273.0 1207.3,267.4 1213.1,264.4 1218.9,261.5 1224.7,255.4 1230.5,255.5 1236.3,254.0 1242.1,252.1 1247.8,251.3 1253.6,248.1 1259.4,248.0 1265.2,244.8 1271.0,241.1 1276.8,236.5 1282.6,234.9 1288.4,225.8 1294.2,232.4 1300.0,237.0 1305.8,236.5 1311.6,232.9 1317.4,232.1 1323.2,226.3 1329.0,221.3 1334.8,220.6 1340.6,232.5 1346.4,229.6 1352.2,245.6 1358.0,233.0 1363.8,228.1 1369.6,225.2 1375.3,218.8 1381.1,230.1 1386.9,219.0 1392.7,216.8 1398.5,219.9 1404.3,217.0 1410.1,213.7 1415.9,208.1 1421.7,203.4 1427.5,203.7 1433.3,218.3 1439.1,240.5 1444.9,220.7 1450.7,213.3 1456.5,210.3 1462.3,201.3 1468.1,190.1 1473.9,196.7 1479.7,201.4 1485.5,184.4 1491.3,178.3 1497.1,180.2 1502.8,175.9 1508.6,169.0 1514.4,160.5 1520.2,159.6 1526.0,155.9 1531.8,152.2 1537.6,147.4 1543.4,155.5 1549.2,144.4 1555.0,145.8 1560.8,138.7 1566.6,147.7 1572.4,153.0 1578.2,147.1 1584.0,162.5 1589.8,162.5 1595.6,177.0 1601.4,162.5 1607.2,169.8 1613.0,186.1 1618.8,173.3 1624.6,164.6 1630.3,174.7 1636.1,164.7 1641.9,169.1 1647.7,163.4 1653.5,161.0 1659.3,160.6 1665.1,150.1 1670.9,145.0 1676.7,148.0 1682.5,156.3 1688.3,160.0 1694.1,145.8 1699.9,138.6 1705.7,136.0 1711.5,127.6 1717.3,122.5 1723.1,129.6 1728.9,121.7 1734.7,116.1 1740.5,114.2 1746.3,110.4 1752.1,107.1 1757.8,108.8 1763.6,99.5 1769.4,103.7 1775.2,99.3 1781.0,101.7 1786.8,107.9" stroke="#000" stroke-width="1.6"/>
</g>
<g clip-path="url(#c2)" fill="none" stroke-linejoin="round">
<polyline points="13.4,778.8 19.2,775.3 25.0,779.6 30.8,782.8 36.6,780.8 42.4,776.7 48.2,762.8 54.0,760.4 59.8,754.8 65.6,754.6 71.4,752.6 77.2,749.8 83.0,742.7 88.7,719.9 94.5,696.0 100.3,693.6 106.1,719.3 111.9,723.4 117.7,713.3 123.5,716.1 129.3,723.4 135.1,714.7 140.9,711.5 146.7,716.1 152.5,673.2 158.3,683.9 164.1,709.9 169.9,712.3 175.7,719.3 181.5,713.7 187.3,735.3 193.1,739.5 198.9,731.4 204.7,703.0 210.5,682.1 216.2,684.3 222.0,669.6 227.8,665.0 233.6,700.4 239.4,699.4 245.2,711.5 251.0,709.9 256.8,723.6 262.6,748.3 268.4,742.1 274.2,754.8 280.0,764.7 285.8,768.5 291.6,767.7 297.4,783.6 303.2,788.4 309.0,794.5 314.8,796.9 320.6,791.6 326.4,789.6 332.2,799.3 338.0,792.7 343.7,795.5 349.5,797.7 355.3,796.9 361.1,801.5 366.9,805.9 372.7,814.6 378.5,816.8 384.3,812.8 390.1,821.7 395.9,807.2 401.7,794.9 407.5,795.5 413.3,800.7 419.1,812.8 424.9,804.9 430.7,807.6 436.5,805.9 442.3,804.7 448.1,803.9 453.9,809.8 459.7,810.8 465.5,815.6 471.2,818.0 477.0,815.6 482.8,811.6 488.6,809.6 494.4,808.6 500.2,809.8 506.0,813.2 511.8,815.0 517.6,820.6 523.4,823.7 529.2,822.1 535.0,822.1 540.8,824.1 546.6,828.9 552.4,818.4 558.2,794.5 564.0,786.6 569.8,793.7 575.6,790.8 581.4,762.4 587.2,759.4 593.0,737.1 598.8,723.8 604.5,714.7 610.3,740.5 616.1,746.3 621.9,729.8 627.7,717.5 633.5,711.3 639.3,661.3 645.1,554.4 650.9,477.5 656.7,514.3 662.5,551.0 668.3,528.4 674.1,536.1 679.9,609.6 685.7,643.6 691.5,667.0 697.3,693.0 703.1,695.0 708.9,719.5 714.7,726.2 720.5,725.4 726.3,749.6 732.0,746.5 737.8,743.7 743.6,760.6 749.4,765.7 755.2,737.3 761.0,734.4 766.8,745.3 772.6,740.1 778.4,752.8 784.2,759.6 790.0,753.6 795.8,769.5 801.6,776.5 807.4,783.0 813.2,783.0 819.0,783.0 824.8,777.3 830.6,770.5 836.4,766.7 842.2,732.0 848.0,709.7 853.8,735.9 859.5,721.6 865.3,732.4 871.1,745.3 876.9,758.4 882.7,757.8 888.5,756.8 894.3,739.1 900.1,748.3 905.9,754.6 911.7,758.6 917.5,762.4 923.3,765.7 929.1,764.9 934.9,771.7 940.7,778.4 946.5,778.8 952.3,780.8 958.1,786.8 963.9,785.6 969.7,773.9 975.5,783.8 981.3,782.8 987.0,781.2 992.8,791.0 998.6,792.9 1004.4,797.7 1010.2,793.7 1016.0,801.5 1021.8,802.9 1027.6,803.9 1033.4,804.9 1039.2,808.2 1045.0,797.9 1050.8,801.5 1056.6,789.6 1062.4,791.8 1068.2,784.8 1074.0,777.3 1079.8,772.7 1085.6,788.6 1091.4,781.6 1097.2,785.8 1103.0,786.8 1108.8,777.3 1114.5,770.3 1120.3,763.7 1126.1,745.3 1131.9,759.2 1137.7,749.8 1143.5,739.1 1149.3,722.4 1155.1,722.4 1160.9,738.7 1166.7,753.2 1172.5,758.6 1178.3,753.6 1184.1,763.9 1189.9,775.5 1195.7,778.8 1201.5,779.4 1207.3,784.4 1213.1,792.9 1218.9,798.1 1224.7,803.9 1230.5,799.7 1236.3,801.7 1242.1,803.9 1247.8,802.9 1253.6,805.7 1259.4,800.1 1265.2,806.3 1271.0,807.8 1276.8,805.3 1282.6,805.3 1288.4,812.8 1294.2,808.6 1300.0,803.9 1305.8,808.8 1311.6,805.7 1317.4,803.9 1323.2,808.6 1329.0,808.6 1334.8,812.8 1340.6,801.1 1346.4,792.3 1352.2,772.1 1358.0,791.4 1363.8,798.9 1369.6,796.7 1375.3,803.5 1381.1,787.0 1386.9,796.5 1392.7,799.5 1398.5,795.7 1404.3,797.7 1410.1,795.1 1415.9,797.7 1421.7,806.8 1427.5,798.1 1433.3,776.9 1439.1,701.2 1444.9,724.6 1450.7,746.3 1456.5,748.3 1462.3,774.9 1468.1,777.8 1473.9,769.5 1479.7,771.7 1485.5,791.8 1491.3,800.5 1497.1,801.9 1502.8,806.8 1508.6,810.8 1514.4,812.6 1520.2,811.8 1526.0,816.8 1531.8,811.8 1537.6,813.6 1543.4,815.4 1549.2,815.4 1555.0,804.7 1560.8,815.6 1566.6,805.3 1572.4,802.9 1578.2,809.0 1584.0,799.7 1589.8,794.1 1595.6,760.4 1601.4,781.6 1607.2,777.3 1613.0,769.5 1618.8,786.0 1624.6,786.8 1630.3,781.8 1636.1,791.4 1641.9,793.7 1647.7,786.6 1653.5,787.6 1659.3,785.2 1665.1,795.9 1670.9,802.5 1676.7,801.1 1682.5,797.9 1688.3,789.6 1694.1,801.1 1699.9,810.6 1705.7,806.8 1711.5,812.6 1717.3,815.4 1723.1,814.8 1728.9,814.4 1734.7,813.8 1740.5,813.0 1746.3,814.6 1752.1,817.4 1757.8,820.4 1763.6,823.3 1769.4,819.6 1775.2,824.5 1781.0,820.6 1786.8,820.4" stroke="#dc2cdc" stroke-width="1.7"/>
<polyline points="13.4,775.7 19.2,776.7 25.0,778.1 30.8,779.6 36.6,780.7 42.4,780.4 48.2,778.5 54.0,776.3 59.8,773.4 65.6,770.7 71.4,768.0 77.2,765.5 83.0,761.8 88.7,755.5 94.5,747.0 100.3,738.7 106.1,734.4 111.9,730.7 117.7,726.5 123.5,722.7 129.3,719.7 135.1,716.2 140.9,713.1 146.7,712.7 152.5,710.5 158.3,709.5 164.1,708.5 169.9,707.4 175.7,708.0 181.5,707.8 187.3,709.0 193.1,711.5 198.9,713.5 204.7,712.2 210.5,713.0 216.2,713.1 222.0,709.1 227.8,704.3 233.6,702.4 239.4,701.0 245.2,698.6 251.0,695.7 256.8,694.9 262.6,699.4 268.4,705.4 274.2,712.5 280.0,722.0 285.8,732.3 291.6,739.0 297.4,747.5 303.2,755.2 309.0,763.6 314.8,770.9 320.6,775.3 326.4,780.0 332.2,784.5 338.0,787.3 343.7,790.0 349.5,793.0 355.3,794.3 361.1,795.6 366.9,796.8 372.7,798.5 378.5,801.1 384.3,803.4 390.1,805.6 395.9,807.1 401.7,807.0 407.5,806.8 413.3,807.2 419.1,808.3 424.9,808.2 430.7,807.5 436.5,806.4 442.3,805.6 448.1,803.8 453.9,804.1 459.7,805.7 465.5,807.7 471.2,809.4 477.0,809.7 482.8,810.4 488.6,810.6 494.4,810.8 500.2,811.3 506.0,812.2 511.8,812.8 517.6,813.8 523.4,814.6 529.2,815.0 535.0,815.6 540.8,816.9 546.6,818.8 552.4,819.8 558.2,818.3 564.0,815.6 569.8,813.5 575.6,810.5 581.4,804.4 587.2,798.1 593.0,789.6 598.8,779.6 604.5,768.1 610.3,760.3 616.1,755.5 621.9,749.9 627.7,742.2 633.5,734.3 639.3,724.2 645.1,703.7 650.9,677.7 656.7,656.8 662.5,640.4 668.3,619.2 674.1,598.2 679.9,586.1 685.7,578.7 691.5,574.3 697.3,577.5 703.1,591.5 708.9,615.7 714.7,636.9 720.5,654.4 726.3,676.5 732.0,697.5 737.8,710.9 743.6,722.6 749.4,732.5 755.2,736.9 761.0,740.9 766.8,743.5 772.6,744.9 778.4,747.6 784.2,748.6 790.0,749.3 795.8,751.9 801.6,753.5 807.4,755.2 813.2,759.8 819.0,764.6 824.8,767.8 830.6,770.9 836.4,772.3 842.2,769.5 848.0,765.1 853.8,761.8 859.5,756.3 865.3,751.2 871.1,747.4 876.9,745.0 882.7,743.0 888.5,741.7 894.3,738.9 900.1,740.5 905.9,745.0 911.7,747.3 917.5,751.4 923.3,754.7 929.1,756.7 934.9,758.0 940.7,760.0 946.5,762.2 952.3,766.4 958.1,770.3 963.9,773.4 969.7,774.9 975.5,777.0 981.3,778.7 987.0,780.4 992.8,782.3 998.6,783.8 1004.4,785.6 1010.2,786.9 1016.0,788.4 1021.8,790.1 1027.6,793.1 1033.4,795.3 1039.2,797.8 1045.0,799.5 1050.8,800.5 1056.6,800.2 1062.4,799.6 1068.2,798.7 1074.0,796.3 1079.8,793.3 1085.6,791.7 1091.4,789.4 1097.2,787.2 1103.0,786.1 1108.8,783.7 1114.5,781.7 1120.3,778.9 1126.1,775.0 1131.9,773.1 1137.7,770.8 1143.5,765.9 1149.3,760.0 1155.1,753.6 1160.9,748.8 1166.7,746.4 1172.5,745.2 1178.3,744.2 1184.1,746.1 1189.9,747.7 1195.7,750.6 1201.5,754.6 1207.3,760.8 1213.1,767.9 1218.9,773.8 1224.7,778.9 1230.5,783.0 1236.3,787.8 1242.1,791.8 1247.8,794.6 1253.6,797.3 1259.4,799.3 1265.2,801.5 1271.0,803.0 1276.8,803.8 1282.6,803.9 1288.4,805.2 1294.2,805.9 1300.0,805.9 1305.8,806.5 1311.6,806.5 1317.4,806.9 1323.2,807.1 1329.0,807.2 1334.8,807.9 1340.6,807.5 1346.4,805.4 1352.2,801.8 1358.0,800.5 1363.8,799.5 1369.6,798.6 1375.3,798.6 1381.1,796.4 1386.9,795.2 1392.7,793.9 1398.5,793.4 1404.3,793.9 1410.1,796.2 1415.9,796.8 1421.7,797.6 1427.5,797.7 1433.3,795.1 1439.1,786.5 1444.9,779.3 1450.7,774.0 1456.5,769.3 1462.3,767.0 1468.1,765.3 1473.9,762.4 1479.7,758.9 1485.5,758.3 1491.3,760.7 1497.1,770.7 1502.8,779.0 1508.6,785.4 1514.4,791.8 1520.2,795.5 1526.0,799.4 1531.8,803.7 1537.6,807.8 1543.4,810.2 1549.2,811.7 1555.0,812.0 1560.8,812.9 1566.6,812.3 1572.4,811.3 1578.2,811.1 1584.0,809.3 1589.8,807.6 1595.6,802.3 1601.4,798.9 1607.2,795.1 1613.0,791.5 1618.8,788.6 1624.6,786.7 1630.3,784.6 1636.1,782.9 1641.9,782.3 1647.7,781.5 1653.5,784.2 1659.3,784.6 1665.1,786.5 1670.9,789.8 1676.7,791.3 1682.5,792.4 1688.3,793.2 1694.1,794.1 1699.9,795.8 1705.7,797.8 1711.5,800.3 1717.3,803.3 1723.1,805.2 1728.9,806.4 1734.7,807.7 1740.5,809.2 1746.3,811.7 1752.1,813.3 1757.8,814.3 1763.6,816.0 1769.4,816.7 1775.2,817.6 1781.0,818.2 1786.8,818.8" stroke="#15154f" stroke-width="1.05"/>
</g>
<text x="16.6" y="15.3" font-size="13.3" font-weight="bold" stroke="#000" stroke-width="0.2" textLength="32.8" lengthAdjust="spacing" >$SPX</text>
<text x="53.7" y="15.2" font-size="10.6" stroke="#000" stroke-width="0.12" textLength="122.6" lengthAdjust="spacing" >S&amp;P 500 Large Cap Index</text>
<text transform="translate(181.3 14.8) scale(1.12 1)" font-size="8.4" stroke="#000" stroke-width="0.12" textLength="21.43" lengthAdjust="spacing" >INDX</text>
<text x="1805.3" y="14.9" font-size="10.6" fill="#5a5a5a" text-anchor="end" stroke="#5a5a5a" stroke-width="0.12" textLength="89.4" lengthAdjust="spacing" >© StockCharts.com</text>
<text x="19.5" y="44.8" font-size="10.5" stroke="#000" stroke-width="0.12" >Open:</text>
<text x="77.7" y="44.8" font-size="12" font-weight="bold" stroke="#000" stroke-width="0.15" textLength="44.7" lengthAdjust="spacing" >5968.33</text>
<text x="19.5" y="59.2" font-size="10.5" stroke="#000" stroke-width="0.12" >High:</text>
<text x="77.7" y="59.2" font-size="12" font-weight="bold" stroke="#000" stroke-width="0.15" textLength="44.7" lengthAdjust="spacing" >5986.09</text>
<text x="19.5" y="73.6" font-size="10.5" stroke="#000" stroke-width="0.12" >Low:</text>
<text x="77.7" y="73.6" font-size="12" font-weight="bold" stroke="#000" stroke-width="0.15" textLength="44.7" lengthAdjust="spacing" >5711.64</text>
<text x="19.5" y="88.0" font-size="10.5" stroke="#000" stroke-width="0.12" >Prev Close:</text>
<text x="77.7" y="88.0" font-size="12" font-weight="bold" stroke="#000" stroke-width="0.15" textLength="44.7" lengthAdjust="spacing" >5954.50</text>
<text x="155.9" y="44.8" font-size="10.5" stroke="#000" stroke-width="0.12" >Ask:</text>
<text x="155.9" y="59.2" font-size="10.5" stroke="#000" stroke-width="0.12" >Bid:</text>
<text x="155.9" y="73.6" font-size="10.5" stroke="#000" stroke-width="0.12" >Last:</text>
<text x="155.9" y="88.0" font-size="10.5" stroke="#000" stroke-width="0.12" >Optionable:</text>
<text x="227.1" y="88.0" font-size="12" font-weight="bold" stroke="#000" stroke-width="0.15" >yes</text>
<text x="280.7" y="44.8" font-size="10.5" stroke="#000" stroke-width="0.12" >Mkt Cap:</text>
<text x="280.7" y="59.2" font-size="10.5" stroke="#000" stroke-width="0.12" >Fwd Dividend:</text>
<text x="280.7" y="73.6" font-size="10.5" stroke="#000" stroke-width="0.12" >Fwd Yield:</text>
<text x="280.7" y="88.0" font-size="10.5" stroke="#000" stroke-width="0.12" >SCTR:</text>
<text x="352.8" y="59.2" font-size="12" font-weight="bold" stroke="#000" stroke-width="0.15" textLength="18.1" lengthAdjust="spacing" >N/A</text>
<text x="352.8" y="73.6" font-size="12" font-weight="bold" stroke="#000" stroke-width="0.15" textLength="18.1" lengthAdjust="spacing" >N/A</text>
<text x="404.6" y="44.8" font-size="10.5" stroke="#000" stroke-width="0.12" >P/E:</text>
<text x="404.6" y="59.2" font-size="10.5" stroke="#000" stroke-width="0.12" >EPS:</text>
<text x="404.6" y="73.6" font-size="10.5" stroke="#000" stroke-width="0.12" >Last Earnings:</text>
<text x="404.6" y="88.0" font-size="10.5" stroke="#000" stroke-width="0.12" >Next Earnings:</text>
<text x="1800.3" y="30.0" font-size="10.7" text-anchor="end" stroke="#000" stroke-width="0.12" textLength="151.2" lengthAdjust="spacing" xml:space="preserve">Thursday  6-Mar-2025  3:57 pm</text>
<path d="M1676 35.2h12.2l-6.1 12z" fill="#990033"/>
<text x="1800.4" y="45.9" font-size="14" font-weight="bold" fill="#990033" text-anchor="end" stroke="#990033" stroke-width="0.15" textLength="44.5" lengthAdjust="spacing" >-3.66%</text>
<text x="1672.7" y="59.4" font-size="10.5" stroke="#000" stroke-width="0.12" >Chg:</text>
<text x="1800.4" y="59.6" font-size="12" font-weight="bold" text-anchor="end" stroke="#000" stroke-width="0.15" textLength="41.1" lengthAdjust="spacing" >-217.64</text>
<text x="1672.7" y="73.8" font-size="10.5" stroke="#000" stroke-width="0.12" >Last:</text>
<text x="1800.4" y="74.0" font-size="12" font-weight="bold" text-anchor="end" stroke="#000" stroke-width="0.15" textLength="44.5" lengthAdjust="spacing" >5736.86</text>
<text x="1672.7" y="88.4" font-size="10.5" stroke="#000" stroke-width="0.12" >Volume:</text>
<text x="1800.4" y="88.6" font-size="12" font-weight="bold" text-anchor="end" stroke="#000" stroke-width="0.15" textLength="84.8" lengthAdjust="spacing" >11,239,702,528</text>
<path d="M59 19V834M558 19V834M836 19V834M1056 19V834M1346 19V834M1433 19V834M1578 19V834" stroke="#6a9552" stroke-width="2" stroke-dasharray="4 2" fill="none" shape-rendering="crispEdges"/>
<path d="M19 98h9" stroke="#000" stroke-width="2" shape-rendering="crispEdges"/>
<text transform="translate(31.9 102.2) scale(1.1 1)" font-size="10.0" stroke="#000" stroke-width="0.15" textLength="226.64" lengthAdjust="spacing" >S&amp;P 500 Large Cap Index (Monthly) 5736.86</text>
<path d="M19 109h9" stroke="#000070" stroke-width="2" shape-rendering="crispEdges"/>
<text x="29.7" y="112.8" font-size="9.5" fill="#000058" stroke="#000058" stroke-width="0.2" textLength="68.4" lengthAdjust="spacing" >MA(10) 5774.50</text>
<path d="M19 477h9" stroke="#dc2cdc" stroke-width="2" shape-rendering="crispEdges"/>
<text transform="translate(31.6 480.4) scale(1.1 1)" font-size="9.6" stroke="#000" stroke-width="0.15" textLength="339.09" lengthAdjust="spacing" >ICE BofA US High Yield Index Option-Adjusted Spread 2.88 (5 Mar)</text>
<path d="M19 488h9" stroke="#000050" stroke-width="2" shape-rendering="crispEdges"/>
<text x="29.9" y="491.5" font-size="9.5" fill="#000048" stroke="#000048" stroke-width="0.2" textLength="53" lengthAdjust="spacing" >MA(10) 2.96</text>
<text transform="translate(19.9 467.0) scale(0.9 1)" font-size="10.2" text-anchor="middle" stroke="#000" stroke-width="0.2" >O</text>
<text transform="translate(35.4 467.0) scale(0.92 1)" font-size="11" font-weight="bold" text-anchor="middle" stroke="#000" stroke-width="0.15" >00</text>
<text transform="translate(54.7 467.0) scale(0.9 1)" font-size="10.2" text-anchor="middle" stroke="#000" stroke-width="0.2" >A</text>
<text transform="translate(72.1 467.0) scale(0.9 1)" font-size="10.2" text-anchor="middle" stroke="#000" stroke-width="0.2" >J</text>
<text transform="translate(89.4 467.0) scale(0.9 1)" font-size="10.2" text-anchor="middle" stroke="#000" stroke-width="0.2" >O</text>
<text transform="translate(104.9 467.0) scale(0.92 1)" font-size="11" font-weight="bold" text-anchor="middle" stroke="#000" stroke-width="0.15" >01</text>
<text transform="translate(124.2 467.0) scale(0.9 1)" font-size="10.2" text-anchor="middle" stroke="#000" stroke-width="0.2" >A</text>
<text transform="translate(141.6 467.0) scale(0.9 1)" font-size="10.2" text-anchor="middle" stroke="#000" stroke-width="0.2" >J</text>
<text transform="translate(159.0 467.0) scale(0.9 1)" font-size="10.2" text-anchor="middle" stroke="#000" stroke-width="0.2" >O</text>
<text transform="translate(174.5 467.0) scale(0.92 1)" font-size="11" font-weight="bold" text-anchor="middle" stroke="#000" stroke-width="0.15" >02</text>
<text transform="translate(193.8 467.0) scale(0.9 1)" font-size="10.2" text-anchor="middle" stroke="#000" stroke-width="0.2" >A</text>
<text transform="translate(211.2 467.0) scale(0.9 1)" font-size="10.2" text-anchor="middle" stroke="#000" stroke-width="0.2" >J</text>
<text transform="translate(228.5 467.0) scale(0.9 1)" font-size="10.2" text-anchor="middle" stroke="#000" stroke-width="0.2" >O</text>
<text transform="translate(244.0 467.0) scale(0.92 1)" font-size="11" font-weight="bold" text-anchor="middle" stroke="#000" stroke-width="0.15" >03</text>
<text transform="translate(263.3 467.0) scale(0.9 1)" font-size="10.2" text-anchor="middle" stroke="#000" stroke-width="0.2" >A</text>
<text transform="translate(280.7 467.0) scale(0.9 1)" font-size="10.2" text-anchor="middle" stroke="#000" stroke-width="0.2" >J</text>
<text transform="translate(298.1 467.0) scale(0.9 1)" font-size="10.2" text-anchor="middle" stroke="#000" stroke-width="0.2" >O</text>
<text transform="translate(313.6 467.0) scale(0.92 1)" font-size="11" font-weight="bold" text-anchor="middle" stroke="#000" stroke-width="0.15" >04</text>
<text transform="translate(332.9 467.0) scale(0.9 1)" font-size="10.2" text-anchor="middle" stroke="#000" stroke-width="0.2" >A</text>
<text transform="translate(350.2 467.0) scale(0.9 1)" font-size="10.2" text-anchor="middle" stroke="#000" stroke-width="0.2" >J</text>
<text transform="translate(367.6 467.0) scale(0.9 1)" font-size="10.2" text-anchor="middle" stroke="#000" stroke-width="0.2" >O</text>
<text transform="translate(383.1 467.0) scale(0.92 1)" font-size="11" font-weight="bold" text-anchor="middle" stroke="#000" stroke-width="0.15" >05</text>
<text transform="translate(402.4 467.0) scale(0.9 1)" font-size="10.2" text-anchor="middle" stroke="#000" stroke-width="0.2" >A</text>
<text transform="translate(419.8 467.0) scale(0.9 1)" font-size="10.2" text-anchor="middle" stroke="#000" stroke-width="0.2" >J</text>
<text transform="translate(437.2 467.0) scale(0.9 1)" font-size="10.2" text-anchor="middle" stroke="#000" stroke-width="0.2" >O</text>
<text transform="translate(452.7 467.0) scale(0.92 1)" font-size="11" font-weight="bold" text-anchor="middle" stroke="#000" stroke-width="0.15" >06</text>
<text transform="translate(471.9 467.0) scale(0.9 1)" font-size="10.2" text-anchor="middle" stroke="#000" stroke-width="0.2" >A</text>
<text transform="translate(489.3 467.0) scale(0.9 1)" font-size="10.2" text-anchor="middle" stroke="#000" stroke-width="0.2" >J</text>
<text transform="translate(506.7 467.0) scale(0.9 1)" font-size="10.2" text-anchor="middle" stroke="#000" stroke-width="0.2" >O</text>
<text transform="translate(522.2 467.0) scale(0.92 1)" font-size="11" font-weight="bold" text-anchor="middle" stroke="#000" stroke-width="0.15" >07</text>
<text transform="translate(541.5 467.0) scale(0.9 1)" font-size="10.2" text-anchor="middle" stroke="#000" stroke-width="0.2" >A</text>
<text transform="translate(558.9 467.0) scale(0.9 1)" font-size="10.2" text-anchor="middle" stroke="#000" stroke-width="0.2" >J</text>
<text transform="translate(576.3 467.0) scale(0.9 1)" font-size="10.2" text-anchor="middle" stroke="#000" stroke-width="0.2" >O</text>
<text transform="translate(591.8 467.0) scale(0.92 1)" font-size="11" font-weight="bold" text-anchor="middle" stroke="#000" stroke-width="0.15" >08</text>
<text transform="translate(611.0 467.0) scale(0.9 1)" font-size="10.2" text-anchor="middle" stroke="#000" stroke-width="0.2" >A</text>
<text transform="translate(628.4 467.0) scale(0.9 1)" font-size="10.2" text-anchor="middle" stroke="#000" stroke-width="0.2" >J</text>
<text transform="translate(645.8 467.0) scale(0.9 1)" font-size="10.2" text-anchor="middle" stroke="#000" stroke-width="0.2" >O</text>
<text transform="translate(661.3 467.0) scale(0.92 1)" font-size="11" font-weight="bold" text-anchor="middle" stroke="#000" stroke-width="0.15" >09</text>
<text transform="translate(680.6 467.0) scale(0.9 1)" font-size="10.2" text-anchor="middle" stroke="#000" stroke-width="0.2" >A</text>
<text transform="translate(698.0 467.0) scale(0.9 1)" font-size="10.2" text-anchor="middle" stroke="#000" stroke-width="0.2" >J</text>
<text transform="translate(715.4 467.0) scale(0.9 1)" font-size="10.2" text-anchor="middle" stroke="#000" stroke-width="0.2" >O</text>
<text transform="translate(730.8 467.0) scale(0.92 1)" font-size="11" font-weight="bold" text-anchor="middle" stroke="#000" stroke-width="0.15" >10</text>
<text transform="translate(750.1 467.0) scale(0.9 1)" font-size="10.2" text-anchor="middle" stroke="#000" stroke-width="0.2" >A</text>
<text transform="translate(767.5 467.0) scale(0.9 1)" font-size="10.2" text-anchor="middle" stroke="#000" stroke-width="0.2" >J</text>
<text transform="translate(784.9 467.0) scale(0.9 1)" font-size="10.2" text-anchor="middle" stroke="#000" stroke-width="0.2" >O</text>
<text transform="translate(800.4 467.0) scale(0.92 1)" font-size="11" font-weight="bold" text-anchor="middle" stroke="#000" stroke-width="0.15" >11</text>
<text transform="translate(819.7 467.0) scale(0.9 1)" font-size="10.2" text-anchor="middle" stroke="#000" stroke-width="0.2" >A</text>
<text transform="translate(837.1 467.0) scale(0.9 1)" font-size="10.2" text-anchor="middle" stroke="#000" stroke-width="0.2" >J</text>
<text transform="translate(854.5 467.0) scale(0.9 1)" font-size="10.2" text-anchor="middle" stroke="#000" stroke-width="0.2" >O</text>
<text transform="translate(869.9 467.0) scale(0.92 1)" font-size="11" font-weight="bold" text-anchor="middle" stroke="#000" stroke-width="0.15" >12</text>
<text transform="translate(889.2 467.0) scale(0.9 1)" font-size="10.2" text-anchor="middle" stroke="#000" stroke-width="0.2" >A</text>
<text transform="translate(906.6 467.0) scale(0.9 1)" font-size="10.2" text-anchor="middle" stroke="#000" stroke-width="0.2" >J</text>
<text transform="translate(924.0 467.0) scale(0.9 1)" font-size="10.2" text-anchor="middle" stroke="#000" stroke-width="0.2" >O</text>
<text transform="translate(939.5 467.0) scale(0.92 1)" font-size="11" font-weight="bold" text-anchor="middle" stroke="#000" stroke-width="0.15" >13</text>
<text transform="translate(958.8 467.0) scale(0.9 1)" font-size="10.2" text-anchor="middle" stroke="#000" stroke-width="0.2" >A</text>
<text transform="translate(976.2 467.0) scale(0.9 1)" font-size="10.2" text-anchor="middle" stroke="#000" stroke-width="0.2" >J</text>
<text transform="translate(993.5 467.0) scale(0.9 1)" font-size="10.2" text-anchor="middle" stroke="#000" stroke-width="0.2" >O</text>
<text transform="translate(1009.0 467.0) scale(0.92 1)" font-size="11" font-weight="bold" text-anchor="middle" stroke="#000" stroke-width="0.15" >14</text>
<text transform="translate(1028.3 467.0) scale(0.9 1)" font-size="10.2" text-anchor="middle" stroke="#000" stroke-width="0.2" >A</text>
<text transform="translate(1045.7 467.0) scale(0.9 1)" font-size="10.2" text-anchor="middle" stroke="#000" stroke-width="0.2" >J</text>
<text transform="translate(1063.1 467.0) scale(0.9 1)" font-size="10.2" text-anchor="middle" stroke="#000" stroke-width="0.2" >O</text>
<text transform="translate(1078.6 467.0) scale(0.92 1)" font-size="11" font-weight="bold" text-anchor="middle" stroke="#000" stroke-width="0.15" >15</text>
<text transform="translate(1097.9 467.0) scale(0.9 1)" font-size="10.2" text-anchor="middle" stroke="#000" stroke-width="0.2" >A</text>
<text transform="translate(1115.2 467.0) scale(0.9 1)" font-size="10.2" text-anchor="middle" stroke="#000" stroke-width="0.2" >J</text>
<text transform="translate(1132.6 467.0) scale(0.9 1)" font-size="10.2" text-anchor="middle" stroke="#000" stroke-width="0.2" >O</text>
<text transform="translate(1148.1 467.0) scale(0.92 1)" font-size="11" font-weight="bold" text-anchor="middle" stroke="#000" stroke-width="0.15" >16</text>
<text transform="translate(1167.4 467.0) scale(0.9 1)" font-size="10.2" text-anchor="middle" stroke="#000" stroke-width="0.2" >A</text>
<text transform="translate(1184.8 467.0) scale(0.9 1)" font-size="10.2" text-anchor="middle" stroke="#000" stroke-width="0.2" >J</text>
<text transform="translate(1202.2 467.0) scale(0.9 1)" font-size="10.2" text-anchor="middle" stroke="#000" stroke-width="0.2" >O</text>
<text transform="translate(1217.7 467.0) scale(0.92 1)" font-size="11" font-weight="bold" text-anchor="middle" stroke="#000" stroke-width="0.15" >17</text>
<text transform="translate(1237.0 467.0) scale(0.9 1)" font-size="10.2" text-anchor="middle" stroke="#000" stroke-width="0.2" >A</text>
<text transform="translate(1254.3 467.0) scale(0.9 1)" font-size="10.2" text-anchor="middle" stroke="#000" stroke-width="0.2" >J</text>
<text transform="translate(1271.7 467.0) scale(0.9 1)" font-size="10.2" text-anchor="middle" stroke="#000" stroke-width="0.2" >O</text>
<text transform="translate(1287.2 467.0) scale(0.92 1)" font-size="11" font-weight="bold" text-anchor="middle" stroke="#000" stroke-width="0.15" >18</text>
<text transform="translate(1306.5 467.0) scale(0.9 1)" font-size="10.2" text-anchor="middle" stroke="#000" stroke-width="0.2" >A</text>
<text transform="translate(1323.9 467.0) scale(0.9 1)" font-size="10.2" text-anchor="middle" stroke="#000" stroke-width="0.2" >J</text>
<text transform="translate(1341.3 467.0) scale(0.9 1)" font-size="10.2" text-anchor="middle" stroke="#000" stroke-width="0.2" >O</text>
<text transform="translate(1356.8 467.0) scale(0.92 1)" font-size="11" font-weight="bold" text-anchor="middle" stroke="#000" stroke-width="0.15" >19</text>
<text transform="translate(1376.0 467.0) scale(0.9 1)" font-size="10.2" text-anchor="middle" stroke="#000" stroke-width="0.2" >A</text>
<text transform="translate(1393.4 467.0) scale(0.9 1)" font-size="10.2" text-anchor="middle" stroke="#000" stroke-width="0.2" >J</text>
<text transform="translate(1410.8 467.0) scale(0.9 1)" font-size="10.2" text-anchor="middle" stroke="#000" stroke-width="0.2" >O</text>
<text transform="translate(1426.3 467.0) scale(0.92 1)" font-size="11" font-weight="bold" text-anchor="middle" stroke="#000" stroke-width="0.15" >20</text>
<text transform="translate(1445.6 467.0) scale(0.9 1)" font-size="10.2" text-anchor="middle" stroke="#000" stroke-width="0.2" >A</text>
<text transform="translate(1463.0 467.0) scale(0.9 1)" font-size="10.2" text-anchor="middle" stroke="#000" stroke-width="0.2" >J</text>
<text transform="translate(1480.4 467.0) scale(0.9 1)" font-size="10.2" text-anchor="middle" stroke="#000" stroke-width="0.2" >O</text>
<text transform="translate(1495.9 467.0) scale(0.92 1)" font-size="11" font-weight="bold" text-anchor="middle" stroke="#000" stroke-width="0.15" >21</text>
<text transform="translate(1515.1 467.0) scale(0.9 1)" font-size="10.2" text-anchor="middle" stroke="#000" stroke-width="0.2" >A</text>
<text transform="translate(1532.5 467.0) scale(0.9 1)" font-size="10.2" text-anchor="middle" stroke="#000" stroke-width="0.2" >J</text>
<text transform="translate(1549.9 467.0) scale(0.9 1)" font-size="10.2" text-anchor="middle" stroke="#000" stroke-width="0.2" >O</text>
<text transform="translate(1565.4 467.0) scale(0.92 1)" font-size="11" font-weight="bold" text-anchor="middle" stroke="#000" stroke-width="0.15" >22</text>
<text transform="translate(1584.7 467.0) scale(0.9 1)" font-size="10.2" text-anchor="middle" stroke="#000" stroke-width="0.2" >A</text>
<text transform="translate(1602.1 467.0) scale(0.9 1)" font-size="10.2" text-anchor="middle" stroke="#000" stroke-width="0.2" >J</text>
<text transform="translate(1619.5 467.0) scale(0.9 1)" font-size="10.2" text-anchor="middle" stroke="#000" stroke-width="0.2" >O</text>
<text transform="translate(1634.9 467.0) scale(0.92 1)" font-size="11" font-weight="bold" text-anchor="middle" stroke="#000" stroke-width="0.15" >23</text>
<text transform="translate(1654.2 467.0) scale(0.9 1)" font-size="10.2" text-anchor="middle" stroke="#000" stroke-width="0.2" >A</text>
<text transform="translate(1671.6 467.0) scale(0.9 1)" font-size="10.2" text-anchor="middle" stroke="#000" stroke-width="0.2" >J</text>
<text transform="translate(1689.0 467.0) scale(0.9 1)" font-size="10.2" text-anchor="middle" stroke="#000" stroke-width="0.2" >O</text>
<text transform="translate(1704.5 467.0) scale(0.92 1)" font-size="11" font-weight="bold" text-anchor="middle" stroke="#000" stroke-width="0.15" >24</text>
<text transform="translate(1723.8 467.0) scale(0.9 1)" font-size="10.2" text-anchor="middle" stroke="#000" stroke-width="0.2" >A</text>
<text transform="translate(1741.2 467.0) scale(0.9 1)" font-size="10.2" text-anchor="middle" stroke="#000" stroke-width="0.2" >J</text>
<text transform="translate(1758.5 467.0) scale(0.9 1)" font-size="10.2" text-anchor="middle" stroke="#000" stroke-width="0.2" >O</text>
<text transform="translate(1774.0 467.0) scale(0.92 1)" font-size="11" font-weight="bold" text-anchor="middle" stroke="#000" stroke-width="0.15" >25</text>
<text transform="translate(1793.3 467.0) scale(0.9 1)" font-size="10.2" text-anchor="middle" stroke="#000" stroke-width="0.2" >A</text>
<text transform="translate(19.9 844.9) scale(0.9 1)" font-size="10.2" text-anchor="middle" stroke="#000" stroke-width="0.2" >O</text>
<text transform="translate(35.4 844.9) scale(0.92 1)" font-size="11" font-weight="bold" text-anchor="middle" stroke="#000" stroke-width="0.15" >00</text>
<text transform="translate(54.7 844.9) scale(0.9 1)" font-size="10.2" text-anchor="middle" stroke="#000" stroke-width="0.2" >A</text>
<text transform="translate(72.1 844.9) scale(0.9 1)" font-size="10.2" text-anchor="middle" stroke="#000" stroke-width="0.2" >J</text>
<text transform="translate(89.4 844.9) scale(0.9 1)" font-size="10.2" text-anchor="middle" stroke="#000" stroke-width="0.2" >O</text>
<text transform="translate(104.9 844.9) scale(0.92 1)" font-size="11" font-weight="bold" text-anchor="middle" stroke="#000" stroke-width="0.15" >01</text>
<text transform="translate(124.2 844.9) scale(0.9 1)" font-size="10.2" text-anchor="middle" stroke="#000" stroke-width="0.2" >A</text>
<text transform="translate(141.6 844.9) scale(0.9 1)" font-size="10.2" text-anchor="middle" stroke="#000" stroke-width="0.2" >J</text>
<text transform="translate(159.0 844.9) scale(0.9 1)" font-size="10.2" text-anchor="middle" stroke="#000" stroke-width="0.2" >O</text>
<text transform="translate(174.5 844.9) scale(0.92 1)" font-size="11" font-weight="bold" text-anchor="middle" stroke="#000" stroke-width="0.15" >02</text>
<text transform="translate(193.8 844.9) scale(0.9 1)" font-size="10.2" text-anchor="middle" stroke="#000" stroke-width="0.2" >A</text>
<text transform="translate(211.2 844.9) scale(0.9 1)" font-size="10.2" text-anchor="middle" stroke="#000" stroke-width="0.2" >J</text>
<text transform="translate(228.5 844.9) scale(0.9 1)" font-size="10.2" text-anchor="middle" stroke="#000" stroke-width="0.2" >O</text>
<text transform="translate(244.0 844.9) scale(0.92 1)" font-size="11" font-weight="bold" text-anchor="middle" stroke="#000" stroke-width="0.15" >03</text>
<text transform="translate(263.3 844.9) scale(0.9 1)" font-size="10.2" text-anchor="middle" stroke="#000" stroke-width="0.2" >A</text>
<text transform="translate(280.7 844.9) scale(0.9 1)" font-size="10.2" text-anchor="middle" stroke="#000" stroke-width="0.2" >J</text>
<text transform="translate(298.1 844.9) scale(0.9 1)" font-size="10.2" text-anchor="middle" stroke="#000" stroke-width="0.2" >O</text>
<text transform="translate(313.6 844.9) scale(0.92 1)" font-size="11" font-weight="bold" text-anchor="middle" stroke="#000" stroke-width="0.15" >04</text>
<text transform="translate(332.9 844.9) scale(0.9 1)" font-size="10.2" text-anchor="middle" stroke="#000" stroke-width="0.2" >A</text>
<text transform="translate(350.2 844.9) scale(0.9 1)" font-size="10.2" text-anchor="middle" stroke="#000" stroke-width="0.2" >J</text>
<text transform="translate(367.6 844.9) scale(0.9 1)" font-size="10.2" text-anchor="middle" stroke="#000" stroke-width="0.2" >O</text>
<text transform="translate(383.1 844.9) scale(0.92 1)" font-size="11" font-weight="bold" text-anchor="middle" stroke="#000" stroke-width="0.15" >05</text>
<text transform="translate(402.4 844.9) scale(0.9 1)" font-size="10.2" text-anchor="middle" stroke="#000" stroke-width="0.2" >A</text>
<text transform="translate(419.8 844.9) scale(0.9 1)" font-size="10.2" text-anchor="middle" stroke="#000" stroke-width="0.2" >J</text>
<text transform="translate(437.2 844.9) scale(0.9 1)" font-size="10.2" text-anchor="middle" stroke="#000" stroke-width="0.2" >O</text>
<text transform="translate(452.7 844.9) scale(0.92 1)" font-size="11" font-weight="bold" text-anchor="middle" stroke="#000" stroke-width="0.15" >06</text>
<text transform="translate(471.9 844.9) scale(0.9 1)" font-size="10.2" text-anchor="middle" stroke="#000" stroke-width="0.2" >A</text>
<text transform="translate(489.3 844.9) scale(0.9 1)" font-size="10.2" text-anchor="middle" stroke="#000" stroke-width="0.2" >J</text>
<text transform="translate(506.7 844.9) scale(0.9 1)" font-size="10.2" text-anchor="middle" stroke="#000" stroke-width="0.2" >O</text>
<text transform="translate(522.2 844.9) scale(0.92 1)" font-size="11" font-weight="bold" text-anchor="middle" stroke="#000" stroke-width="0.15" >07</text>
<text transform="translate(541.5 844.9) scale(0.9 1)" font-size="10.2" text-anchor="middle" stroke="#000" stroke-width="0.2" >A</text>
<text transform="translate(558.9 844.9) scale(0.9 1)" font-size="10.2" text-anchor="middle" stroke="#000" stroke-width="0.2" >J</text>
<text transform="translate(576.3 844.9) scale(0.9 1)" font-size="10.2" text-anchor="middle" stroke="#000" stroke-width="0.2" >O</text>
<text transform="translate(591.8 844.9) scale(0.92 1)" font-size="11" font-weight="bold" text-anchor="middle" stroke="#000" stroke-width="0.15" >08</text>
<text transform="translate(611.0 844.9) scale(0.9 1)" font-size="10.2" text-anchor="middle" stroke="#000" stroke-width="0.2" >A</text>
<text transform="translate(628.4 844.9) scale(0.9 1)" font-size="10.2" text-anchor="middle" stroke="#000" stroke-width="0.2" >J</text>
<text transform="translate(645.8 844.9) scale(0.9 1)" font-size="10.2" text-anchor="middle" stroke="#000" stroke-width="0.2" >O</text>
<text transform="translate(661.3 844.9) scale(0.92 1)" font-size="11" font-weight="bold" text-anchor="middle" stroke="#000" stroke-width="0.15" >09</text>
<text transform="translate(680.6 844.9) scale(0.9 1)" font-size="10.2" text-anchor="middle" stroke="#000" stroke-width="0.2" >A</text>
<text transform="translate(698.0 844.9) scale(0.9 1)" font-size="10.2" text-anchor="middle" stroke="#000" stroke-width="0.2" >J</text>
<text transform="translate(715.4 844.9) scale(0.9 1)" font-size="10.2" text-anchor="middle" stroke="#000" stroke-width="0.2" >O</text>
<text transform="translate(730.8 844.9) scale(0.92 1)" font-size="11" font-weight="bold" text-anchor="middle" stroke="#000" stroke-width="0.15" >10</text>
<text transform="translate(750.1 844.9) scale(0.9 1)" font-size="10.2" text-anchor="middle" stroke="#000" stroke-width="0.2" >A</text>
<text transform="translate(767.5 844.9) scale(0.9 1)" font-size="10.2" text-anchor="middle" stroke="#000" stroke-width="0.2" >J</text>
<text transform="translate(784.9 844.9) scale(0.9 1)" font-size="10.2" text-anchor="middle" stroke="#000" stroke-width="0.2" >O</text>
<text transform="translate(800.4 844.9) scale(0.92 1)" font-size="11" font-weight="bold" text-anchor="middle" stroke="#000" stroke-width="0.15" >11</text>
<text transform="translate(819.7 844.9) scale(0.9 1)" font-size="10.2" text-anchor="middle" stroke="#000" stroke-width="0.2" >A</text>
<text transform="translate(837.1 844.9) scale(0.9 1)" font-size="10.2" text-anchor="middle" stroke="#000" stroke-width="0.2" >J</text>
<text transform="translate(854.5 844.9) scale(0.9 1)" font-size="10.2" text-anchor="middle" stroke="#000" stroke-width="0.2" >O</text>
<text transform="translate(869.9 844.9) scale(0.92 1)" font-size="11" font-weight="bold" text-anchor="middle" stroke="#000" stroke-width="0.15" >12</text>
<text transform="translate(889.2 844.9) scale(0.9 1)" font-size="10.2" text-anchor="middle" stroke="#000" stroke-width="0.2" >A</text>
<text transform="translate(906.6 844.9) scale(0.9 1)" font-size="10.2" text-anchor="middle" stroke="#000" stroke-width="0.2" >J</text>
<text transform="translate(924.0 844.9) scale(0.9 1)" font-size="10.2" text-anchor="middle" stroke="#000" stroke-width="0.2" >O</text>
<text transform="translate(939.5 844.9) scale(0.92 1)" font-size="11" font-weight="bold" text-anchor="middle" stroke="#000" stroke-width="0.15" >13</text>
<text transform="translate(958.8 844.9) scale(0.9 1)" font-size="10.2" text-anchor="middle" stroke="#000" stroke-width="0.2" >A</text>
<text transform="translate(976.2 844.9) scale(0.9 1)" font-size="10.2" text-anchor="middle" stroke="#000" stroke-width="0.2" >J</text>
<text transform="translate(993.5 844.9) scale(0.9 1)" font-size="10.2" text-anchor="middle" stroke="#000" stroke-width="0.2" >O</text>
<text transform="translate(1009.0 844.9) scale(0.92 1)" font-size="11" font-weight="bold" text-anchor="middle" stroke="#000" stroke-width="0.15" >14</text>
<text transform="translate(1028.3 844.9) scale(0.9 1)" font-size="10.2" text-anchor="middle" stroke="#000" stroke-width="0.2" >A</text>
<text transform="translate(1045.7 844.9) scale(0.9 1)" font-size="10.2" text-anchor="middle" stroke="#000" stroke-width="0.2" >J</text>
<text transform="translate(1063.1 844.9) scale(0.9 1)" font-size="10.2" text-anchor="middle" stroke="#000" stroke-width="0.2" >O</text>
<text transform="translate(1078.6 844.9) scale(0.92 1)" font-size="11" font-weight="bold" text-anchor="middle" stroke="#000" stroke-width="0.15" >15</text>
<text transform="translate(1097.9 844.9) scale(0.9 1)" font-size="10.2" text-anchor="middle" stroke="#000" stroke-width="0.2" >A</text>
<text transform="translate(1115.2 844.9) scale(0.9 1)" font-size="10.2" text-anchor="middle" stroke="#000" stroke-width="0.2" >J</text>
<text transform="translate(1132.6 844.9) scale(0.9 1)" font-size="10.2" text-anchor="middle" stroke="#000" stroke-width="0.2" >O</text>
<text transform="translate(1148.1 844.9) scale(0.92 1)" font-size="11" font-weight="bold" text-anchor="middle" stroke="#000" stroke-width="0.15" >16</text>
<text transform="translate(1167.4 844.9) scale(0.9 1)" font-size="10.2" text-anchor="middle" stroke="#000" stroke-width="0.2" >A</text>
<text transform="translate(1184.8 844.9) scale(0.9 1)" font-size="10.2" text-anchor="middle" stroke="#000" stroke-width="0.2" >J</text>
<text transform="translate(1202.2 844.9) scale(0.9 1)" font-size="10.2" text-anchor="middle" stroke="#000" stroke-width="0.2" >O</text>
<text transform="translate(1217.7 844.9) scale(0.92 1)" font-size="11" font-weight="bold" text-anchor="middle" stroke="#000" stroke-width="0.15" >17</text>
<text transform="translate(1237.0 844.9) scale(0.9 1)" font-size="10.2" text-anchor="middle" stroke="#000" stroke-width="0.2" >A</text>
<text transform="translate(1254.3 844.9) scale(0.9 1)" font-size="10.2" text-anchor="middle" stroke="#000" stroke-width="0.2" >J</text>
<text transform="translate(1271.7 844.9) scale(0.9 1)" font-size="10.2" text-anchor="middle" stroke="#000" stroke-width="0.2" >O</text>
<text transform="translate(1287.2 844.9) scale(0.92 1)" font-size="11" font-weight="bold" text-anchor="middle" stroke="#000" stroke-width="0.15" >18</text>
<text transform="translate(1306.5 844.9) scale(0.9 1)" font-size="10.2" text-anchor="middle" stroke="#000" stroke-width="0.2" >A</text>
<text transform="translate(1323.9 844.9) scale(0.9 1)" font-size="10.2" text-anchor="middle" stroke="#000" stroke-width="0.2" >J</text>
<text transform="translate(1341.3 844.9) scale(0.9 1)" font-size="10.2" text-anchor="middle" stroke="#000" stroke-width="0.2" >O</text>
<text transform="translate(1356.8 844.9) scale(0.92 1)" font-size="11" font-weight="bold" text-anchor="middle" stroke="#000" stroke-width="0.15" >19</text>
<text transform="translate(1376.0 844.9) scale(0.9 1)" font-size="10.2" text-anchor="middle" stroke="#000" stroke-width="0.2" >A</text>
<text transform="translate(1393.4 844.9) scale(0.9 1)" font-size="10.2" text-anchor="middle" stroke="#000" stroke-width="0.2" >J</text>
<text transform="translate(1410.8 844.9) scale(0.9 1)" font-size="10.2" text-anchor="middle" stroke="#000" stroke-width="0.2" >O</text>
<text transform="translate(1426.3 844.9) scale(0.92 1)" font-size="11" font-weight="bold" text-anchor="middle" stroke="#000" stroke-width="0.15" >20</text>
<text transform="translate(1445.6 844.9) scale(0.9 1)" font-size="10.2" text-anchor="middle" stroke="#000" stroke-width="0.2" >A</text>
<text transform="translate(1463.0 844.9) scale(0.9 1)" font-size="10.2" text-anchor="middle" stroke="#000" stroke-width="0.2" >J</text>
<text transform="translate(1480.4 844.9) scale(0.9 1)" font-size="10.2" text-anchor="middle" stroke="#000" stroke-width="0.2" >O</text>
<text transform="translate(1495.9 844.9) scale(0.92 1)" font-size="11" font-weight="bold" text-anchor="middle" stroke="#000" stroke-width="0.15" >21</text>
<text transform="translate(1515.1 844.9) scale(0.9 1)" font-size="10.2" text-anchor="middle" stroke="#000" stroke-width="0.2" >A</text>
<text transform="translate(1532.5 844.9) scale(0.9 1)" font-size="10.2" text-anchor="middle" stroke="#000" stroke-width="0.2" >J</text>
<text transform="translate(1549.9 844.9) scale(0.9 1)" font-size="10.2" text-anchor="middle" stroke="#000" stroke-width="0.2" >O</text>
<text transform="translate(1565.4 844.9) scale(0.92 1)" font-size="11" font-weight="bold" text-anchor="middle" stroke="#000" stroke-width="0.15" >22</text>
<text transform="translate(1584.7 844.9) scale(0.9 1)" font-size="10.2" text-anchor="middle" stroke="#000" stroke-width="0.2" >A</text>
<text transform="translate(1602.1 844.9) scale(0.9 1)" font-size="10.2" text-anchor="middle" stroke="#000" stroke-width="0.2" >J</text>
<text transform="translate(1619.5 844.9) scale(0.9 1)" font-size="10.2" text-anchor="middle" stroke="#000" stroke-width="0.2" >O</text>
<text transform="translate(1634.9 844.9) scale(0.92 1)" font-size="11" font-weight="bold" text-anchor="middle" stroke="#000" stroke-width="0.15" >23</text>
<text transform="translate(1654.2 844.9) scale(0.9 1)" font-size="10.2" text-anchor="middle" stroke="#000" stroke-width="0.2" >A</text>
<text transform="translate(1671.6 844.9) scale(0.9 1)" font-size="10.2" text-anchor="middle" stroke="#000" stroke-width="0.2" >J</text>
<text transform="translate(1689.0 844.9) scale(0.9 1)" font-size="10.2" text-anchor="middle" stroke="#000" stroke-width="0.2" >O</text>
<text transform="translate(1704.5 844.9) scale(0.92 1)" font-size="11" font-weight="bold" text-anchor="middle" stroke="#000" stroke-width="0.15" >24</text>
<text transform="translate(1723.8 844.9) scale(0.9 1)" font-size="10.2" text-anchor="middle" stroke="#000" stroke-width="0.2" >A</text>
<text transform="translate(1741.2 844.9) scale(0.9 1)" font-size="10.2" text-anchor="middle" stroke="#000" stroke-width="0.2" >J</text>
<text transform="translate(1758.5 844.9) scale(0.9 1)" font-size="10.2" text-anchor="middle" stroke="#000" stroke-width="0.2" >O</text>
<text transform="translate(1774.0 844.9) scale(0.92 1)" font-size="11" font-weight="bold" text-anchor="middle" stroke="#000" stroke-width="0.15" >25</text>
<text transform="translate(1793.3 844.9) scale(0.9 1)" font-size="10.2" text-anchor="middle" stroke="#000" stroke-width="0.2" >A</text>
<text transform="translate(1808.98 103.0) scale(1.05 1)" font-size="9.7" stroke="#000" stroke-width="0.12" textLength="21.73" lengthAdjust="spacing" >6000</text>
<text transform="translate(1808.98 117.0) scale(1.05 1)" font-size="9.7" stroke="#000" stroke-width="0.12" textLength="21.73" lengthAdjust="spacing" >5500</text>
<text transform="translate(1808.98 125.0) scale(1.05 1)" font-size="9.7" stroke="#000" stroke-width="0.12" textLength="21.73" lengthAdjust="spacing" >5250</text>
<text transform="translate(1808.98 133.0) scale(1.05 1)" font-size="9.7" stroke="#000" stroke-width="0.12" textLength="21.73" lengthAdjust="spacing" >5000</text>
<text transform="translate(1808.98 142.0) scale(1.05 1)" font-size="9.7" stroke="#000" stroke-width="0.12" textLength="21.73" lengthAdjust="spacing" >4750</text>
<text transform="translate(1808.98 151.0) scale(1.05 1)" font-size="9.7" stroke="#000" stroke-width="0.12" textLength="21.73" lengthAdjust="spacing" >4500</text>
<text transform="translate(1808.98 160.0) scale(1.05 1)" font-size="9.7" stroke="#000" stroke-width="0.12" textLength="21.73" lengthAdjust="spacing" >4250</text>
<text transform="translate(1808.98 170.0) scale(1.05 1)" font-size="9.7" stroke="#000" stroke-width="0.12" textLength="21.73" lengthAdjust="spacing" >4000</text>
<text transform="translate(1808.98 181.0) scale(1.05 1)" font-size="9.7" stroke="#000" stroke-width="0.12" textLength="21.73" lengthAdjust="spacing" >3750</text>
<text transform="translate(1808.98 193.0) scale(1.05 1)" font-size="9.7" stroke="#000" stroke-width="0.12" textLength="21.73" lengthAdjust="spacing" >3500</text>
<text transform="translate(1808.98 205.0) scale(1.05 1)" font-size="9.7" stroke="#000" stroke-width="0.12" textLength="21.73" lengthAdjust="spacing" >3250</text>
<text transform="translate(1808.98 218.0) scale(1.05 1)" font-size="9.7" stroke="#000" stroke-width="0.12" textLength="21.73" lengthAdjust="spacing" >3000</text>
<text transform="translate(1808.98 233.0) scale(1.05 1)" font-size="9.7" stroke="#000" stroke-width="0.12" textLength="21.73" lengthAdjust="spacing" >2750</text>
<text transform="translate(1808.98 249.0) scale(1.05 1)" font-size="9.7" stroke="#000" stroke-width="0.12" textLength="21.73" lengthAdjust="spacing" >2500</text>
<text transform="translate(1808.98 266.0) scale(1.05 1)" font-size="9.7" stroke="#000" stroke-width="0.12" textLength="21.73" lengthAdjust="spacing" >2250</text>
<text transform="translate(1808.98 286.0) scale(1.05 1)" font-size="9.7" stroke="#000" stroke-width="0.12" textLength="21.73" lengthAdjust="spacing" >2000</text>
<text transform="translate(1808.98 308.0) scale(1.05 1)" font-size="9.7" stroke="#000" stroke-width="0.12" textLength="21.73" lengthAdjust="spacing" >1750</text>
<text transform="translate(1808.98 334.0) scale(1.05 1)" font-size="9.7" stroke="#000" stroke-width="0.12" textLength="21.73" lengthAdjust="spacing" >1500</text>
<text transform="translate(1808.98 364.0) scale(1.05 1)" font-size="9.7" stroke="#000" stroke-width="0.12" textLength="21.73" lengthAdjust="spacing" >1250</text>
<text transform="translate(1808.98 401.0) scale(1.05 1)" font-size="9.7" stroke="#000" stroke-width="0.12" textLength="21.73" lengthAdjust="spacing" >1000</text>
<text transform="translate(1814.81 449.0) scale(1.05 1)" font-size="9.7" stroke="#000" stroke-width="0.12" textLength="16.18" lengthAdjust="spacing" >750</text>
<text transform="translate(1814.8700000000001 800.0) scale(1.05 1)" font-size="9.7" stroke="#000" stroke-width="0.12" >4</text>
<text transform="translate(1814.8700000000001 780.0) scale(1.05 1)" font-size="9.7" stroke="#000" stroke-width="0.12" >5</text>
<text transform="translate(1814.8700000000001 760.0) scale(1.05 1)" font-size="9.7" stroke="#000" stroke-width="0.12" >6</text>
<text transform="translate(1814.8700000000001 740.0) scale(1.05 1)" font-size="9.7" stroke="#000" stroke-width="0.12" >7</text>
<text transform="translate(1814.8700000000001 720.0) scale(1.05 1)" font-size="9.7" stroke="#000" stroke-width="0.12" >8</text>
<text transform="translate(1814.8700000000001 700.0) scale(1.05 1)" font-size="9.7" stroke="#000" stroke-width="0.12" >9</text>
<text transform="translate(1809.04 680.0) scale(1.05 1)" font-size="9.7" stroke="#000" stroke-width="0.12" textLength="10.63" lengthAdjust="spacing" >10</text>
<text transform="translate(1809.04 659.0) scale(1.05 1)" font-size="9.7" stroke="#000" stroke-width="0.12" textLength="10.63" lengthAdjust="spacing" >11</text>
<text transform="translate(1809.04 639.0) scale(1.05 1)" font-size="9.7" stroke="#000" stroke-width="0.12" textLength="10.63" lengthAdjust="spacing" >12</text>
<text transform="translate(1809.04 619.0) scale(1.05 1)" font-size="9.7" stroke="#000" stroke-width="0.12" textLength="10.63" lengthAdjust="spacing" >13</text>
<text transform="translate(1809.04 599.0) scale(1.05 1)" font-size="9.7" stroke="#000" stroke-width="0.12" textLength="10.63" lengthAdjust="spacing" >14</text>
<text transform="translate(1809.04 579.0) scale(1.05 1)" font-size="9.7" stroke="#000" stroke-width="0.12" textLength="10.63" lengthAdjust="spacing" >15</text>
<text transform="translate(1809.04 559.0) scale(1.05 1)" font-size="9.7" stroke="#000" stroke-width="0.12" textLength="10.63" lengthAdjust="spacing" >16</text>
<text transform="translate(1809.04 539.0) scale(1.05 1)" font-size="9.7" stroke="#000" stroke-width="0.12" textLength="10.63" lengthAdjust="spacing" >17</text>
<text transform="translate(1809.04 518.0) scale(1.05 1)" font-size="9.7" stroke="#000" stroke-width="0.12" textLength="10.63" lengthAdjust="spacing" >18</text>
<text transform="translate(1809.04 498.0) scale(1.05 1)" font-size="9.7" stroke="#000" stroke-width="0.12" textLength="10.63" lengthAdjust="spacing" >19</text>
<text transform="translate(1809.04 478.0) scale(1.05 1)" font-size="9.7" stroke="#000" stroke-width="0.12" textLength="10.63" lengthAdjust="spacing" >20</text>
<path d="M1803.6 106.0L1807 101.0H1848.3V111.0H1807Z" fill="#fff" stroke="#000040" stroke-width="1.6"/>
<path d="M1803.6 107.3L1807 102.3H1848.3V112.3H1807Z" fill="#fff" stroke="#000" stroke-width="1.2"/>
<text x="1808.1" y="111.0" font-size="10.3" font-weight="bold" stroke="#000" stroke-width="0.35" textLength="38.2" lengthAdjust="spacing" >5736.86</text>
<path d="M1803.6 818.1L1807 813.1H1830.4V823.1H1807Z" fill="#fff" stroke="#000060" stroke-width="1.4"/>
<path d="M1803.6 819.7L1807 814.7H1830.4V824.7H1807Z" fill="#fff" stroke="#d428d4" stroke-width="1.5"/>
<text x="1808.1" y="823.4000000000001" font-size="10.3" font-weight="bold" stroke="#000" stroke-width="0.35" textLength="20.3" lengthAdjust="spacing" >2.88</text>
</svg>
</body></html>
